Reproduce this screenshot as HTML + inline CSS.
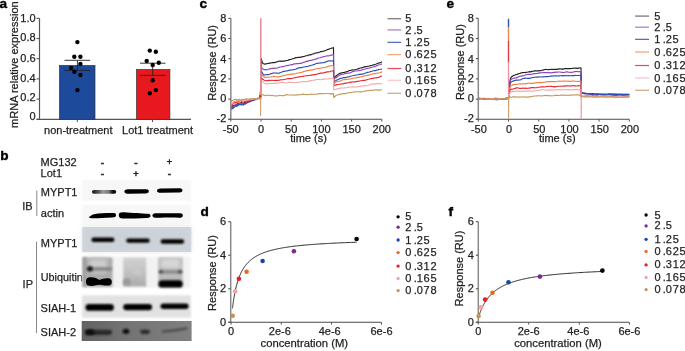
<!DOCTYPE html>
<html><head><meta charset="utf-8"><style>
html,body{margin:0;padding:0;background:#fff;}
svg{display:block;font-family:"Liberation Sans", sans-serif;will-change:transform;filter:blur(0.3px);}
text{stroke:#231f20;stroke-width:0.25px;}
</style></head><body>
<svg width="685" height="351" viewBox="0 0 685 351">
<rect width="685" height="351" fill="#fff"/>
<defs><filter id="bl" x="-20%" y="-50%" width="140%" height="200%"><feGaussianBlur stdDeviation="0.8"/></filter><filter id="bl2" x="-20%" y="-50%" width="140%" height="200%"><feGaussianBlur stdDeviation="1.3"/></filter><filter id="bl3" x="-30%" y="-80%" width="160%" height="260%"><feGaussianBlur stdDeviation="2"/></filter><filter id="bl05" x="-20%" y="-50%" width="140%" height="200%"><feGaussianBlur stdDeviation="0.5"/></filter></defs>
<text x="-0.40" y="8.00" font-size="13.6" text-anchor="start" font-weight="bold" fill="#000" style="stroke:#000;stroke-width:0.4px">a</text>
<text transform="translate(17.6,64.6) rotate(-90)" font-size="11" text-anchor="middle" fill="#231f20">mRNA relative expression</text>
<line x1="39.50" y1="18.30" x2="39.50" y2="119.80" stroke="#555" stroke-width="1.2"/>
<line x1="36.50" y1="119.30" x2="191.00" y2="119.30" stroke="#555" stroke-width="1.2"/>
<line x1="36.50" y1="119.30" x2="39.50" y2="119.30" stroke="#555" stroke-width="1.1"/>
<text x="35.60" y="120.40" font-size="11" text-anchor="end" font-weight="normal" fill="#231f20" >0</text>
<line x1="36.50" y1="99.10" x2="39.50" y2="99.10" stroke="#555" stroke-width="1.1"/>
<text x="35.60" y="101.05" font-size="11" text-anchor="end" font-weight="normal" fill="#231f20" >0.2</text>
<line x1="36.50" y1="78.90" x2="39.50" y2="78.90" stroke="#555" stroke-width="1.1"/>
<text x="35.60" y="82.20" font-size="11" text-anchor="end" font-weight="normal" fill="#231f20" >0.4</text>
<line x1="36.50" y1="58.70" x2="39.50" y2="58.70" stroke="#555" stroke-width="1.1"/>
<text x="35.60" y="61.80" font-size="11" text-anchor="end" font-weight="normal" fill="#231f20" >0.6</text>
<line x1="36.50" y1="38.50" x2="39.50" y2="38.50" stroke="#555" stroke-width="1.1"/>
<text x="35.60" y="40.70" font-size="11" text-anchor="end" font-weight="normal" fill="#231f20" >0.8</text>
<line x1="36.50" y1="18.30" x2="39.50" y2="18.30" stroke="#555" stroke-width="1.1"/>
<text x="35.60" y="21.55" font-size="11" text-anchor="end" font-weight="normal" fill="#231f20" >1.0</text>
<rect x="59.5" y="65.5" width="35.5" height="53.80" fill="#1e4a9c" stroke="#333" stroke-width="0.7"/>
<rect x="136.5" y="69.5" width="33.4" height="49.80" fill="#e8191e" stroke="#333" stroke-width="0.7"/>
<line x1="77.30" y1="119.30" x2="77.30" y2="122.00" stroke="#555" stroke-width="1.0"/>
<line x1="152.50" y1="119.30" x2="152.50" y2="122.00" stroke="#555" stroke-width="1.0"/>
<line x1="64.50" y1="60.30" x2="90.20" y2="60.30" stroke="#222" stroke-width="0.9"/>
<line x1="64.50" y1="70.40" x2="90.20" y2="70.40" stroke="#222" stroke-width="0.9"/>
<line x1="77.40" y1="60.30" x2="77.40" y2="70.40" stroke="#222" stroke-width="0.9"/>
<line x1="140.00" y1="63.20" x2="165.50" y2="63.20" stroke="#222" stroke-width="0.9"/>
<line x1="140.00" y1="75.40" x2="165.50" y2="75.40" stroke="#222" stroke-width="0.9"/>
<line x1="152.70" y1="63.20" x2="152.70" y2="75.40" stroke="#222" stroke-width="0.9"/>
<circle cx="77.4" cy="42.1" r="2.2" fill="#000"/>
<circle cx="74.3" cy="56.8" r="2.2" fill="#000"/>
<circle cx="80.4" cy="56.8" r="2.2" fill="#000"/>
<circle cx="80.4" cy="63.9" r="2.2" fill="#000"/>
<circle cx="71.2" cy="67.9" r="2.2" fill="#000"/>
<circle cx="74.4" cy="71.8" r="2.2" fill="#000"/>
<circle cx="80.4" cy="75.0" r="2.2" fill="#000"/>
<circle cx="77.4" cy="90.1" r="2.2" fill="#000"/>
<circle cx="149.8" cy="50.6" r="2.2" fill="#000"/>
<circle cx="155.8" cy="51.8" r="2.2" fill="#000"/>
<circle cx="146.7" cy="60.9" r="2.2" fill="#000"/>
<circle cx="158.8" cy="62.7" r="2.2" fill="#000"/>
<circle cx="152.7" cy="65" r="2.2" fill="#000"/>
<circle cx="152.7" cy="80.2" r="2.2" fill="#000"/>
<circle cx="155.8" cy="90.1" r="2.2" fill="#000"/>
<circle cx="149.8" cy="93.2" r="2.2" fill="#000"/>
<text x="78.30" y="133.70" font-size="11" text-anchor="middle" font-weight="normal" fill="#231f20" >non-treatment</text>
<text x="157.50" y="133.70" font-size="11" text-anchor="middle" font-weight="normal" fill="#231f20" >Lot1 treatment</text>
<text x="0.20" y="160.10" font-size="13.6" text-anchor="start" font-weight="bold" fill="#000" style="stroke:#000;stroke-width:0.4px">b</text>
<text x="40.60" y="165.90" font-size="11" text-anchor="start" font-weight="normal" fill="#231f20" >MG132</text>
<text x="40.60" y="177.10" font-size="11" text-anchor="start" font-weight="normal" fill="#231f20" >Lot1</text>
<text x="102.50" y="165.50" font-size="10" text-anchor="middle" font-weight="normal" fill="#231f20" style="stroke-width:0.55px">-</text>
<text x="135.90" y="165.50" font-size="10" text-anchor="middle" font-weight="normal" fill="#231f20" style="stroke-width:0.55px">-</text>
<text x="169.40" y="164.90" font-size="9.2" text-anchor="middle" font-weight="normal" fill="#231f20" style="stroke-width:0.5px">+</text>
<text x="102.50" y="177.00" font-size="10" text-anchor="middle" font-weight="normal" fill="#231f20" style="stroke-width:0.55px">-</text>
<text x="135.90" y="176.60" font-size="9.2" text-anchor="middle" font-weight="normal" fill="#231f20" style="stroke-width:0.5px">+</text>
<text x="169.40" y="177.00" font-size="10" text-anchor="middle" font-weight="normal" fill="#231f20" style="stroke-width:0.55px">-</text>
<text x="22.30" y="209.90" font-size="11" text-anchor="start" font-weight="normal" fill="#231f20" >IB</text>
<text x="22.60" y="288.10" font-size="11" text-anchor="start" font-weight="normal" fill="#231f20" >IP</text>
<line x1="36.80" y1="190.60" x2="36.80" y2="216.00" stroke="#888" stroke-width="1"/>
<line x1="36.50" y1="241.60" x2="36.50" y2="333.10" stroke="#888" stroke-width="1"/>
<text x="40.80" y="196.40" font-size="11" text-anchor="start" font-weight="normal" fill="#231f20" >MYPT1</text>
<text x="40.80" y="217.30" font-size="11" text-anchor="start" font-weight="normal" fill="#231f20" >actin</text>
<text x="40.80" y="246.90" font-size="11" text-anchor="start" font-weight="normal" fill="#231f20" >MYPT1</text>
<text x="40.80" y="280.90" font-size="10.8" text-anchor="start" font-weight="normal" fill="#231f20" >Ubiquitin</text>
<text x="40.60" y="312.40" font-size="11" text-anchor="start" font-weight="normal" fill="#231f20" >SIAH-1</text>
<text x="40.60" y="335.70" font-size="11" text-anchor="start" font-weight="normal" fill="#231f20" >SIAH-2</text>
<rect x="82" y="180" width="109" height="21" fill="#f7f7f7" filter="url(#bl)"/>
<linearGradient id="g1" x1="0" x2="1" y1="0" y2="0"><stop offset="0" stop-color="#111"/><stop offset="0.25" stop-color="#555"/><stop offset="0.45" stop-color="#9a9a9a"/><stop offset="0.7" stop-color="#777"/><stop offset="0.85" stop-color="#111"/><stop offset="1" stop-color="#0a0a0a"/></linearGradient>
<rect x="92" y="189.9" width="24.2" height="3.8" rx="1.9" fill="url(#g1)" filter="url(#bl05)"/>
<path d="M124.4,191.5 C124.4,189.6 126,189.2 130,189.2 L146,189.2 C148.6,189.2 148.8,190.2 148.8,191.2 C148.8,193 147,193.6 144,193.6 L130,193.8 C126,193.9 124.4,193.4 124.4,191.5 Z" fill="#050505" filter="url(#bl05)"/>
<path d="M157,190.8 C157,189 159,188.6 162,188.6 L179,188.3 C182.2,188.3 182.4,189.4 182.4,190.4 C182.4,192 181,192.4 178,192.5 L162,192.8 C158.5,192.9 157,192.5 157,190.8 Z" fill="#050505" filter="url(#bl05)"/>
<rect x="82" y="204.8" width="109" height="20.5" fill="#f7f7f7" filter="url(#bl)"/>
<path d="M88.7,217.2 C90,216.5 91.5,214.8 94,214.2 C100,213.2 108,213.0 114,213.1 C115.8,213.2 116,214 116,215.3 C116,216.8 115,217.4 112,217.6 C104,217.9 97,218.4 93,218.3 C91,218.2 89.5,217.9 88.7,217.2 Z" fill="#050505" filter="url(#bl05)"/>
<path d="M118.8,215 C118.8,212.6 120.5,212 124,212.2 C132,212.8 142,213.4 148,213.8 C150.2,214 150.5,215 150.5,216 C150.5,217.2 149.5,217.8 147,217.9 C140,218.2 130,218.6 123,218.6 C120,218.6 118.8,217.4 118.8,215 Z" fill="#050505" filter="url(#bl05)"/>
<path d="M152.4,215.5 C152.4,213.8 154,213.2 157,213.2 L180,213.3 C182.5,213.3 182.8,214.4 182.8,215.4 C182.8,217 181.5,217.8 179,217.8 C172,217.4 166,217.6 157,217.8 C153.8,217.8 152.4,217.2 152.4,215.5 Z" fill="#050505" filter="url(#bl05)"/>
<rect x="82.3" y="227" width="109" height="25" fill="#d3d9df"/>
<rect x="82.3" y="227" width="109" height="25" fill="#c8cdd4" opacity="0.5" filter="url(#bl3)"/>
<rect x="91.4" y="237.60" width="23.00" height="4.4" rx="2.20" fill="#050505" opacity="1" filter="url(#bl)"/>
<rect x="126.2" y="238.40" width="23.50" height="4.4" rx="2.20" fill="#050505" opacity="1" filter="url(#bl)"/>
<rect x="160.6" y="239.20" width="23.50" height="4.6" rx="2.30" fill="#050505" opacity="1" filter="url(#bl)"/>
<rect x="82.4" y="256.7" width="108.2" height="31" fill="#f2f2f2" filter="url(#bl)"/>
<rect x="85.5" y="257.5" width="27" height="29.5" fill="#aaaaaa" filter="url(#bl2)"/>
<rect x="89" y="259" width="18" height="14" fill="#cdcdcd" filter="url(#bl3)"/>
<linearGradient id="gl2" x1="0" x2="0" y1="0" y2="1"><stop offset="0" stop-color="#d2d2d2"/><stop offset="0.5" stop-color="#c2c2c2"/><stop offset="1" stop-color="#acacac"/></linearGradient>
<rect x="123.2" y="257.5" width="23" height="29" fill="url(#gl2)" filter="url(#bl2)"/>
<rect x="158.2" y="257.5" width="24.5" height="29.5" fill="#bbbbbb" filter="url(#bl2)"/>
<rect x="161" y="259" width="19" height="9" fill="#d8d8d8" filter="url(#bl3)"/>
<rect x="82.4" y="257" width="4" height="30" fill="#9a9a9a" filter="url(#bl2)"/>
<rect x="86" y="267.10" width="26.00" height="3.8" rx="1.90" fill="#8a8a8a" opacity="1" filter="url(#bl2)"/>
<ellipse cx="90" cy="268.8" rx="2.8" ry="2.6" fill="#151515" opacity="1" filter="url(#bl)"/>
<path d="M86,281.5 C86,278.2 87.5,277.2 91,277.2 C95,277.2 97,278.6 99.5,280 C101.5,279 104,278.3 107.5,278.3 C110.8,278.3 111.8,279.8 111.8,282 C111.8,284.8 110.5,285.6 107,285.6 C104,285.6 102,284.8 99.5,284.8 C97,284.8 95,285.9 91,285.9 C87.5,285.9 86,285 86,281.5 Z" fill="#000" filter="url(#bl05)"/>
<rect x="158.5" y="280.20" width="24.20" height="7.4" rx="3.70" fill="#000" opacity="1" filter="url(#bl)"/>
<rect x="159" y="270.20" width="23.00" height="3.2" rx="1.60" fill="#8a8a8a" opacity="1" filter="url(#bl)"/>
<ellipse cx="161" cy="271.8" rx="2.2" ry="1.8" fill="#555" opacity="1" filter="url(#bl)"/>
<ellipse cx="180" cy="271.8" rx="2.2" ry="1.8" fill="#555" opacity="1" filter="url(#bl)"/>
<ellipse cx="127" cy="282" rx="4" ry="3.5" fill="#9a9a9a" opacity="1" filter="url(#bl2)"/>
<ellipse cx="135" cy="282" rx="3" ry="2.5" fill="#b0b0b0" opacity="1" filter="url(#bl2)"/>
<ellipse cx="138" cy="272" rx="4" ry="3" fill="#c8c8c8" opacity="1" filter="url(#bl2)"/>
<rect x="82" y="295.3" width="109" height="22.4" fill="#e2e2e2" filter="url(#bl)"/>
<rect x="85.5" y="304.00" width="28.40" height="6.8" rx="3.40" fill="#050505" opacity="1" filter="url(#bl)"/>
<rect x="123.2" y="303.90" width="28.90" height="6.4" rx="3.20" fill="#050505" opacity="1" filter="url(#bl)"/>
<rect x="160.5" y="303.50" width="28.10" height="5.4" rx="2.70" fill="#050505" opacity="1" filter="url(#bl)"/>
<linearGradient id="g6" x1="0" x2="1" y1="0" y2="0"><stop offset="0" stop-color="#626262"/><stop offset="0.4" stop-color="#737373"/><stop offset="1" stop-color="#808080"/></linearGradient>
<rect x="81.7" y="321" width="109.9" height="20" fill="url(#g6)"/>
<rect x="85" y="329.70" width="27.00" height="5.2" rx="2.60" fill="#2a2a2a" opacity="1" filter="url(#bl)"/>
<ellipse cx="90" cy="332.3" rx="4.5" ry="2.7" fill="#0a0a0a" opacity="1" filter="url(#bl)"/>
<ellipse cx="126" cy="331.3" rx="3.4" ry="2.6" fill="#111" opacity="1" filter="url(#bl)"/>
<ellipse cx="145" cy="331.8" rx="5" ry="2.4" fill="#2e2e2e" opacity="1" filter="url(#bl)"/>
<path d="M162,331.5 C170,331 180,330 187.4,328" stroke="#505050" stroke-width="2.6" fill="none" filter="url(#bl)"/>
<text x="199.40" y="8.10" font-size="13.6" text-anchor="start" font-weight="bold" fill="#000" style="stroke:#000;stroke-width:0.4px">c</text>
<path d="M231.00,108.67 L231.58,107.99 L232.16,106.81 L232.74,105.78 L233.33,105.27 L233.91,105.78 L234.49,105.65 L235.07,105.30 L235.65,105.00 L236.23,104.51 L236.82,104.31 L237.40,103.28 L237.98,103.43 L238.56,104.21 L239.14,103.94 L239.72,102.96 L240.31,101.98 L240.89,102.21 L241.47,102.62 L242.05,102.99 L242.63,103.05 L243.21,103.02 L243.80,102.68 L244.38,102.48 L244.96,102.70 L245.54,102.20 L246.12,102.47 L246.70,102.68 L247.29,102.30 L247.87,101.73 L248.45,100.95 L249.03,100.85 L249.61,100.84 L250.19,100.91 L250.78,100.81 L251.36,100.35 L251.94,99.90 L252.52,99.73 L253.10,100.08 L253.68,99.86 L254.27,99.50 L254.85,99.60 L255.43,99.11 L256.01,98.91 L256.59,99.29 L257.17,98.78 L257.76,98.38 L258.34,98.58 L258.92,98.38 L259.50,98.35 L260.30,97.80 L261.30,58.28 L262.21,62.41 L263.13,63.55 L264.04,63.95 L264.96,64.14 L265.87,63.88 L266.78,63.73 L267.70,63.47 L268.61,63.38 L269.53,63.10 L270.44,63.16 L271.35,62.80 L272.27,62.59 L273.18,62.55 L274.09,62.60 L275.01,62.35 L275.92,62.21 L276.84,61.92 L277.75,61.77 L278.66,61.34 L279.58,60.96 L280.49,61.12 L281.41,61.36 L282.32,61.15 L283.23,61.08 L284.15,61.06 L285.06,60.94 L285.98,60.69 L286.89,60.53 L287.80,60.36 L288.72,59.92 L289.63,59.68 L290.55,59.51 L291.46,59.30 L292.37,58.80 L293.29,58.69 L294.20,58.43 L295.12,57.89 L296.03,57.59 L296.94,57.73 L297.86,57.43 L298.77,57.31 L299.68,57.37 L300.60,57.16 L301.51,56.87 L302.43,56.88 L303.34,56.49 L304.25,56.35 L305.17,56.07 L306.08,55.77 L307.00,55.59 L307.91,55.36 L308.82,54.90 L309.74,54.86 L310.65,54.86 L311.57,54.45 L312.48,54.05 L313.39,53.90 L314.31,53.53 L315.22,53.08 L316.14,53.05 L317.05,52.83 L317.96,52.74 L318.88,52.34 L319.79,52.01 L320.71,51.65 L321.62,51.61 L322.53,51.27 L323.45,51.16 L324.36,50.96 L325.27,50.59 L326.19,50.21 L327.10,49.76 L328.02,49.41 L328.93,49.13 L329.84,48.76 L330.76,48.44 L331.67,48.17 L332.59,48.02 L333.50,47.63 L333.70,78.56 L334.59,77.83 L335.49,76.68 L336.38,75.69 L337.28,75.02 L338.17,74.33 L339.07,73.58 L339.96,73.35 L340.86,73.19 L341.75,72.89 L342.64,72.53 L343.54,72.51 L344.43,72.38 L345.33,72.05 L346.22,71.82 L347.12,71.66 L348.01,71.21 L348.91,70.68 L349.80,70.48 L350.69,70.36 L351.59,70.04 L352.48,69.81 L353.38,69.97 L354.27,69.89 L355.17,69.72 L356.06,69.45 L356.96,69.20 L357.85,68.84 L358.74,68.59 L359.64,68.33 L360.53,68.00 L361.43,67.92 L362.32,67.58 L363.22,67.35 L364.11,66.84 L365.01,66.90 L365.90,66.66 L366.79,66.55 L367.69,66.24 L368.58,66.23 L369.48,65.97 L370.37,65.57 L371.27,65.49 L372.16,65.31 L373.06,64.93 L373.95,64.94 L374.84,64.56 L375.74,64.22 L376.63,63.81 L377.53,63.57 L378.42,63.08 L379.32,62.94 L380.21,62.63 L381.11,62.21 L382.00,61.75" fill="none" stroke="#231f20" stroke-width="1.15" stroke-linejoin="round" opacity="1"/>
<path d="M231.00,108.21 L231.58,107.21 L232.16,107.87 L232.74,108.37 L233.33,107.75 L233.91,106.29 L234.49,105.12 L235.07,104.73 L235.65,104.85 L236.23,105.84 L236.82,104.92 L237.40,104.73 L237.98,105.36 L238.56,104.50 L239.14,103.18 L239.72,103.71 L240.31,104.34 L240.89,103.45 L241.47,103.54 L242.05,103.82 L242.63,104.12 L243.21,103.46 L243.80,103.19 L244.38,103.95 L244.96,103.88 L245.54,103.11 L246.12,102.18 L246.70,102.38 L247.29,102.44 L247.87,101.94 L248.45,102.11 L249.03,101.76 L249.61,100.51 L250.19,100.29 L250.78,100.22 L251.36,100.34 L251.94,100.69 L252.52,100.17 L253.10,99.93 L253.68,100.08 L254.27,99.93 L254.85,99.86 L255.43,99.66 L256.01,99.44 L256.59,99.56 L257.17,99.50 L257.76,98.97 L258.34,98.70 L258.92,98.38 L259.50,97.96 L260.30,97.80 L261.50,66.95 L262.41,68.67 L263.32,69.43 L264.23,69.62 L265.15,69.60 L266.06,69.60 L266.97,69.71 L267.88,69.56 L268.79,69.10 L269.70,68.91 L270.61,68.84 L271.53,68.40 L272.44,68.22 L273.35,68.35 L274.26,68.38 L275.17,68.13 L276.08,68.28 L276.99,68.24 L277.91,67.84 L278.82,67.42 L279.73,67.19 L280.64,67.04 L281.55,66.79 L282.46,66.65 L283.37,66.57 L284.28,66.29 L285.20,65.98 L286.11,65.72 L287.02,65.68 L287.93,65.30 L288.84,65.32 L289.75,65.06 L290.66,64.77 L291.58,64.61 L292.49,64.64 L293.40,64.14 L294.31,63.90 L295.22,63.95 L296.13,63.59 L297.04,63.50 L297.96,63.64 L298.87,63.60 L299.78,63.39 L300.69,63.39 L301.60,63.15 L302.51,62.88 L303.42,62.32 L304.34,62.14 L305.25,61.89 L306.16,61.52 L307.07,61.15 L307.98,61.36 L308.89,60.79 L309.80,60.43 L310.72,60.48 L311.63,60.16 L312.54,59.75 L313.45,59.91 L314.36,59.58 L315.27,59.11 L316.18,59.07 L317.09,58.63 L318.01,58.15 L318.92,57.96 L319.83,57.76 L320.74,57.43 L321.65,57.29 L322.56,56.96 L323.47,56.66 L324.39,56.45 L325.30,56.26 L326.21,55.97 L327.12,55.78 L328.03,55.92 L328.94,55.75 L329.85,55.61 L330.77,55.21 L331.68,55.18 L332.59,54.73 L333.50,54.60 L333.70,79.69 L334.59,78.68 L335.49,77.92 L336.38,77.60 L337.28,76.69 L338.17,75.98 L339.07,75.57 L339.96,75.04 L340.86,74.48 L341.75,74.24 L342.64,74.27 L343.54,74.12 L344.43,73.76 L345.33,73.46 L346.22,73.55 L347.12,73.25 L348.01,73.15 L348.91,73.16 L349.80,73.01 L350.69,72.65 L351.59,72.11 L352.48,71.64 L353.38,71.35 L354.27,71.30 L355.17,71.00 L356.06,71.02 L356.96,70.95 L357.85,70.80 L358.74,70.62 L359.64,70.52 L360.53,70.30 L361.43,70.13 L362.32,69.89 L363.22,69.52 L364.11,69.22 L365.01,69.03 L365.90,68.72 L366.79,68.50 L367.69,68.35 L368.58,68.20 L369.48,67.95 L370.37,67.59 L371.27,67.37 L372.16,67.23 L373.06,67.01 L373.95,66.75 L374.84,66.67 L375.74,66.27 L376.63,65.70 L377.53,65.40 L378.42,65.05 L379.32,64.81 L380.21,64.53 L381.11,64.18 L382.00,63.79" fill="none" stroke="#8e44b8" stroke-width="1.15" stroke-linejoin="round" opacity="1"/>
<path d="M231.00,109.46 L231.58,108.45 L232.16,108.80 L232.74,108.70 L233.33,107.76 L233.91,107.60 L234.49,107.31 L235.07,106.24 L235.65,105.93 L236.23,106.43 L236.82,106.36 L237.40,105.89 L237.98,104.86 L238.56,104.23 L239.14,104.84 L239.72,104.65 L240.31,104.67 L240.89,104.90 L241.47,104.71 L242.05,104.28 L242.63,104.77 L243.21,105.17 L243.80,104.00 L244.38,103.42 L244.96,104.23 L245.54,103.87 L246.12,103.07 L246.70,103.28 L247.29,102.76 L247.87,101.85 L248.45,101.68 L249.03,101.89 L249.61,101.91 L250.19,101.77 L250.78,101.24 L251.36,101.04 L251.94,100.95 L252.52,100.60 L253.10,100.29 L253.68,100.01 L254.27,99.96 L254.85,99.61 L255.43,99.18 L256.01,99.22 L256.59,98.91 L257.17,98.68 L257.76,98.44 L258.34,98.26 L258.92,98.53 L259.50,98.57 L260.30,97.80 L261.50,71.21 L262.41,73.05 L263.32,74.81 L264.23,74.85 L265.15,74.85 L266.06,74.77 L266.97,74.56 L267.88,74.45 L268.79,74.60 L269.70,74.14 L270.61,73.65 L271.53,73.57 L272.44,73.33 L273.35,72.91 L274.26,72.96 L275.17,73.04 L276.08,73.09 L276.99,73.08 L277.91,73.26 L278.82,73.23 L279.73,72.87 L280.64,72.57 L281.55,72.19 L282.46,71.71 L283.37,71.38 L284.28,71.35 L285.20,71.28 L286.11,71.03 L287.02,70.82 L287.93,70.63 L288.84,70.41 L289.75,70.12 L290.66,70.10 L291.58,69.95 L292.49,69.83 L293.40,69.69 L294.31,69.52 L295.22,69.24 L296.13,69.10 L297.04,68.49 L297.96,68.13 L298.87,67.93 L299.78,67.63 L300.69,67.46 L301.60,67.58 L302.51,67.31 L303.42,67.05 L304.34,66.96 L305.25,66.76 L306.16,66.58 L307.07,66.50 L307.98,66.19 L308.89,65.97 L309.80,65.67 L310.72,65.45 L311.63,65.24 L312.54,65.02 L313.45,64.63 L314.36,64.36 L315.27,63.95 L316.18,63.55 L317.09,63.39 L318.01,63.26 L318.92,63.09 L319.83,63.01 L320.74,62.88 L321.65,62.94 L322.56,62.75 L323.47,62.65 L324.39,62.39 L325.30,62.36 L326.21,61.60 L327.12,61.34 L328.03,61.03 L328.94,60.88 L329.85,60.82 L330.77,60.93 L331.68,60.96 L332.59,60.82 L333.50,60.66 L333.70,81.84 L334.59,81.20 L335.49,80.76 L336.38,80.33 L337.28,79.74 L338.17,79.55 L339.07,79.15 L339.96,78.53 L340.86,78.32 L341.75,78.13 L342.64,77.87 L343.54,77.58 L344.43,77.66 L345.33,77.63 L346.22,77.40 L347.12,77.19 L348.01,77.05 L348.91,76.84 L349.80,76.40 L350.69,76.27 L351.59,76.00 L352.48,75.78 L353.38,75.51 L354.27,75.53 L355.17,75.26 L356.06,75.04 L356.96,75.00 L357.85,74.73 L358.74,74.43 L359.64,74.39 L360.53,74.38 L361.43,74.04 L362.32,74.09 L363.22,73.86 L364.11,73.58 L365.01,73.20 L365.90,73.05 L366.79,72.42 L367.69,72.41 L368.58,72.27 L369.48,72.00 L370.37,71.65 L371.27,71.46 L372.16,71.19 L373.06,70.80 L373.95,70.71 L374.84,70.63 L375.74,70.58 L376.63,70.14 L377.53,69.98 L378.42,69.63 L379.32,69.45 L380.21,69.28 L381.11,69.24 L382.00,69.00" fill="none" stroke="#2a50b4" stroke-width="1.15" stroke-linejoin="round" opacity="1"/>
<path d="M231.00,104.29 L231.58,104.75 L232.16,105.03 L232.74,103.63 L233.33,102.60 L233.91,102.01 L234.49,101.56 L235.07,101.57 L235.65,102.01 L236.23,102.28 L236.82,102.28 L237.40,102.85 L237.98,102.22 L238.56,101.29 L239.14,102.64 L239.72,101.81 L240.31,100.44 L240.89,101.19 L241.47,101.39 L242.05,101.42 L242.63,101.21 L243.21,101.13 L243.80,101.16 L244.38,101.23 L244.96,100.45 L245.54,99.80 L246.12,100.35 L246.70,100.20 L247.29,99.77 L247.87,100.18 L248.45,100.18 L249.03,100.06 L249.61,100.33 L250.19,100.11 L250.78,99.93 L251.36,99.71 L251.94,99.14 L252.52,99.08 L253.10,99.41 L253.68,99.21 L254.27,99.00 L254.85,99.18 L255.43,98.93 L256.01,98.83 L256.59,99.24 L257.17,98.93 L257.76,98.56 L258.34,98.55 L258.92,98.69 L259.50,98.68 L260.30,97.80 L261.50,73.88 L262.41,75.22 L263.32,76.12 L264.23,77.00 L265.15,77.44 L266.06,77.32 L266.97,77.23 L267.88,77.23 L268.79,77.08 L269.70,77.23 L270.61,77.05 L271.53,76.83 L272.44,76.79 L273.35,76.60 L274.26,76.40 L275.17,76.60 L276.08,76.70 L276.99,76.80 L277.91,77.11 L278.82,76.91 L279.73,76.51 L280.64,76.40 L281.55,76.30 L282.46,75.78 L283.37,75.56 L284.28,75.52 L285.20,75.32 L286.11,74.94 L287.02,74.87 L287.93,74.77 L288.84,74.61 L289.75,74.38 L290.66,74.34 L291.58,74.14 L292.49,74.14 L293.40,74.06 L294.31,73.84 L295.22,73.76 L296.13,73.52 L297.04,73.22 L297.96,72.96 L298.87,73.00 L299.78,72.68 L300.69,72.59 L301.60,72.42 L302.51,71.98 L303.42,71.62 L304.34,71.39 L305.25,71.26 L306.16,70.91 L307.07,70.66 L307.98,70.46 L308.89,70.37 L309.80,70.07 L310.72,70.10 L311.63,70.10 L312.54,69.82 L313.45,69.65 L314.36,69.32 L315.27,68.94 L316.18,68.76 L317.09,68.73 L318.01,68.45 L318.92,68.47 L319.83,68.27 L320.74,68.11 L321.65,68.01 L322.56,67.75 L323.47,67.79 L324.39,67.59 L325.30,67.35 L326.21,66.97 L327.12,66.97 L328.03,66.35 L328.94,65.97 L329.85,65.84 L330.77,65.71 L331.68,65.46 L332.59,65.70 L333.50,65.77 L333.70,84.24 L334.59,83.05 L335.49,82.44 L336.38,81.71 L337.28,81.48 L338.17,81.35 L339.07,81.36 L339.96,80.97 L340.86,80.72 L341.75,80.32 L342.64,79.84 L343.54,79.73 L344.43,79.60 L345.33,79.51 L346.22,79.44 L347.12,79.45 L348.01,79.29 L348.91,79.12 L349.80,79.02 L350.69,78.85 L351.59,78.47 L352.48,78.40 L353.38,78.30 L354.27,77.96 L355.17,77.93 L356.06,77.92 L356.96,77.44 L357.85,77.39 L358.74,77.35 L359.64,77.16 L360.53,76.97 L361.43,76.94 L362.32,76.44 L363.22,76.32 L364.11,76.04 L365.01,75.80 L365.90,75.65 L366.79,75.62 L367.69,75.38 L368.58,75.14 L369.48,74.95 L370.37,74.48 L371.27,74.21 L372.16,73.99 L373.06,73.94 L373.95,73.68 L374.84,73.66 L375.74,73.64 L376.63,73.30 L377.53,72.99 L378.42,72.97 L379.32,72.74 L380.21,72.45 L381.11,72.16 L382.00,71.85" fill="none" stroke="#f08040" stroke-width="1.15" stroke-linejoin="round" opacity="1"/>
<path d="M231.00,106.01 L231.58,106.90 L232.16,105.28 L232.74,103.15 L233.33,103.38 L233.91,102.80 L234.49,102.53 L235.07,103.09 L235.65,102.58 L236.23,102.44 L236.82,101.77 L237.40,101.77 L237.98,101.69 L238.56,101.01 L239.14,101.35 L239.72,101.41 L240.31,101.90 L240.89,102.03 L241.47,101.47 L242.05,101.59 L242.63,102.26 L243.21,101.98 L243.80,101.45 L244.38,101.80 L244.96,101.66 L245.54,100.67 L246.12,101.31 L246.70,102.31 L247.29,100.73 L247.87,99.90 L248.45,100.50 L249.03,100.65 L249.61,100.58 L250.19,100.10 L250.78,99.53 L251.36,99.51 L251.94,99.91 L252.52,99.52 L253.10,98.95 L253.68,99.09 L254.27,98.81 L254.85,98.67 L255.43,98.88 L256.01,98.93 L256.59,98.79 L257.17,98.46 L257.76,98.44 L258.34,98.49 L258.92,98.37 L259.50,98.30 L260.30,97.80 L261.50,77.91 L262.41,78.93 L263.32,79.55 L264.23,80.29 L265.15,80.60 L266.06,80.73 L266.97,80.55 L267.88,80.60 L268.79,80.36 L269.70,80.30 L270.61,80.55 L271.53,80.24 L272.44,80.28 L273.35,80.47 L274.26,80.44 L275.17,80.30 L276.08,80.61 L276.99,80.42 L277.91,80.42 L278.82,80.23 L279.73,80.17 L280.64,79.82 L281.55,79.73 L282.46,79.71 L283.37,79.69 L284.28,79.46 L285.20,79.29 L286.11,79.08 L287.02,78.76 L287.93,78.67 L288.84,78.59 L289.75,78.64 L290.66,78.58 L291.58,78.56 L292.49,78.25 L293.40,77.98 L294.31,77.87 L295.22,77.73 L296.13,77.39 L297.04,77.22 L297.96,77.10 L298.87,76.93 L299.78,76.82 L300.69,76.57 L301.60,76.54 L302.51,76.45 L303.42,76.11 L304.34,76.02 L305.25,75.98 L306.16,75.74 L307.07,75.66 L307.98,75.78 L308.89,75.45 L309.80,75.38 L310.72,75.16 L311.63,75.18 L312.54,74.81 L313.45,74.87 L314.36,74.58 L315.27,74.62 L316.18,74.45 L317.09,74.04 L318.01,73.69 L318.92,73.66 L319.83,73.39 L320.74,72.89 L321.65,73.27 L322.56,73.16 L323.47,72.74 L324.39,72.68 L325.30,72.38 L326.21,72.09 L327.12,71.84 L328.03,71.87 L328.94,71.74 L329.85,71.77 L330.77,71.30 L331.68,70.98 L332.59,70.92 L333.50,70.68 L333.70,85.74 L334.59,85.41 L335.49,85.12 L336.38,84.89 L337.28,84.65 L338.17,84.49 L339.07,84.26 L339.96,84.28 L340.86,83.92 L341.75,83.98 L342.64,83.82 L343.54,83.71 L344.43,83.26 L345.33,83.34 L346.22,83.16 L347.12,83.05 L348.01,82.77 L348.91,82.70 L349.80,82.37 L350.69,82.14 L351.59,82.09 L352.48,82.05 L353.38,81.84 L354.27,81.81 L355.17,81.95 L356.06,81.60 L356.96,81.43 L357.85,81.42 L358.74,81.32 L359.64,81.05 L360.53,80.79 L361.43,80.79 L362.32,80.63 L363.22,80.42 L364.11,80.28 L365.01,80.36 L365.90,80.02 L366.79,79.71 L367.69,79.46 L368.58,79.24 L369.48,78.97 L370.37,78.70 L371.27,78.68 L372.16,78.42 L373.06,78.35 L373.95,78.10 L374.84,78.05 L375.74,77.91 L376.63,77.85 L377.53,77.48 L378.42,77.37 L379.32,77.12 L380.21,76.56 L381.11,76.24 L382.00,76.09" fill="none" stroke="#e52b33" stroke-width="1.15" stroke-linejoin="round" opacity="1"/>
<path d="M231.00,104.03 L231.58,104.08 L232.16,103.78 L232.74,103.29 L233.33,102.32 L233.91,101.75 L234.49,101.56 L235.07,101.28 L235.65,101.22 L236.23,100.51 L236.82,100.37 L237.40,101.03 L237.98,100.70 L238.56,100.64 L239.14,101.19 L239.72,101.08 L240.31,101.65 L240.89,100.64 L241.47,99.71 L242.05,99.98 L242.63,100.38 L243.21,101.99 L243.80,100.64 L244.38,99.67 L244.96,100.67 L245.54,100.44 L246.12,100.36 L246.70,99.64 L247.29,99.65 L247.87,100.37 L248.45,100.01 L249.03,99.63 L249.61,99.71 L250.19,99.64 L250.78,99.43 L251.36,99.34 L251.94,98.66 L252.52,98.72 L253.10,99.21 L253.68,99.30 L254.27,98.99 L254.85,98.75 L255.43,98.98 L256.01,98.94 L256.59,98.98 L257.17,99.22 L257.76,98.77 L258.34,98.06 L258.92,98.29 L259.50,98.76 L260.30,97.80 L261.50,80.94 L262.41,81.54 L263.32,82.36 L264.23,83.36 L265.15,83.68 L266.06,83.70 L266.97,83.82 L267.88,83.95 L268.79,83.56 L269.70,83.47 L270.61,83.52 L271.53,83.45 L272.44,83.55 L273.35,83.55 L274.26,83.40 L275.17,83.38 L276.08,83.44 L276.99,83.30 L277.91,83.25 L278.82,82.97 L279.73,82.68 L280.64,82.53 L281.55,82.36 L282.46,82.39 L283.37,82.57 L284.28,82.84 L285.20,82.95 L286.11,82.90 L287.02,82.76 L287.93,82.45 L288.84,82.31 L289.75,82.29 L290.66,82.38 L291.58,82.39 L292.49,82.55 L293.40,82.61 L294.31,82.49 L295.22,82.45 L296.13,82.46 L297.04,82.43 L297.96,82.40 L298.87,82.26 L299.78,82.06 L300.69,81.81 L301.60,81.61 L302.51,81.54 L303.42,81.71 L304.34,81.65 L305.25,81.69 L306.16,81.81 L307.07,81.59 L307.98,81.40 L308.89,81.12 L309.80,80.85 L310.72,80.63 L311.63,80.57 L312.54,80.30 L313.45,80.22 L314.36,80.12 L315.27,79.86 L316.18,79.47 L317.09,79.51 L318.01,79.42 L318.92,79.35 L319.83,79.58 L320.74,79.72 L321.65,79.48 L322.56,79.39 L323.47,79.34 L324.39,79.18 L325.30,79.03 L326.21,79.04 L327.12,79.04 L328.03,78.96 L328.94,78.67 L329.85,78.56 L330.77,78.48 L331.68,78.23 L332.59,78.08 L333.50,78.06 L333.70,89.96 L334.59,89.57 L335.49,89.46 L336.38,89.07 L337.28,88.85 L338.17,88.57 L339.07,88.60 L339.96,88.17 L340.86,88.07 L341.75,88.02 L342.64,88.04 L343.54,87.99 L344.43,87.93 L345.33,87.98 L346.22,87.79 L347.12,87.51 L348.01,87.38 L348.91,87.30 L349.80,86.96 L350.69,86.90 L351.59,87.03 L352.48,86.83 L353.38,86.81 L354.27,86.97 L355.17,86.99 L356.06,86.86 L356.96,86.90 L357.85,86.81 L358.74,86.57 L359.64,86.48 L360.53,86.39 L361.43,86.02 L362.32,85.93 L363.22,85.74 L364.11,85.62 L365.01,85.46 L365.90,85.61 L366.79,85.72 L367.69,85.58 L368.58,85.27 L369.48,85.06 L370.37,84.66 L371.27,84.11 L372.16,84.12 L373.06,84.03 L373.95,83.84 L374.84,83.79 L375.74,83.90 L376.63,83.63 L377.53,83.50 L378.42,83.57 L379.32,83.71 L380.21,83.69 L381.11,83.71 L382.00,83.60" fill="none" stroke="#f5a8b0" stroke-width="1.15" stroke-linejoin="round" opacity="1"/>
<path d="M231.00,101.85 L231.58,100.98 L232.16,100.52 L232.74,100.52 L233.33,100.26 L233.91,99.94 L234.49,99.52 L235.07,99.45 L235.65,99.36 L236.23,99.71 L236.82,100.12 L237.40,99.57 L237.98,99.72 L238.56,100.12 L239.14,99.41 L239.72,99.58 L240.31,100.10 L240.89,100.11 L241.47,99.69 L242.05,99.37 L242.63,99.66 L243.21,99.57 L243.80,99.50 L244.38,99.62 L244.96,99.29 L245.54,98.86 L246.12,98.84 L246.70,98.92 L247.29,99.01 L247.87,99.11 L248.45,99.20 L249.03,99.10 L249.61,98.92 L250.19,98.81 L250.78,98.98 L251.36,99.09 L251.94,98.94 L252.52,98.77 L253.10,98.90 L253.68,98.83 L254.27,98.69 L254.85,98.84 L255.43,98.71 L256.01,98.64 L256.59,98.53 L257.17,98.51 L257.76,98.59 L258.34,98.35 L258.92,98.36 L259.50,98.38 L260.30,97.80 L261.50,93.93 L262.41,94.46 L263.32,95.10 L264.23,95.48 L265.15,95.67 L266.06,95.32 L266.97,95.51 L267.88,95.43 L268.79,95.22 L269.70,95.19 L270.61,95.56 L271.53,95.54 L272.44,95.39 L273.35,95.77 L274.26,95.72 L275.17,95.93 L276.08,95.77 L276.99,95.95 L277.91,95.71 L278.82,95.57 L279.73,95.40 L280.64,95.49 L281.55,95.57 L282.46,95.68 L283.37,95.72 L284.28,95.37 L285.20,95.16 L286.11,94.87 L287.02,94.64 L287.93,94.75 L288.84,94.95 L289.75,94.96 L290.66,95.03 L291.58,95.08 L292.49,95.00 L293.40,95.02 L294.31,95.13 L295.22,95.00 L296.13,94.80 L297.04,94.91 L297.96,94.81 L298.87,94.79 L299.78,94.65 L300.69,94.76 L301.60,94.56 L302.51,94.34 L303.42,94.12 L304.34,94.36 L305.25,94.49 L306.16,94.64 L307.07,94.66 L307.98,94.52 L308.89,94.46 L309.80,94.40 L310.72,94.20 L311.63,94.10 L312.54,94.31 L313.45,94.30 L314.36,94.21 L315.27,94.09 L316.18,94.23 L317.09,94.18 L318.01,93.98 L318.92,93.65 L319.83,93.69 L320.74,93.66 L321.65,93.52 L322.56,93.64 L323.47,93.74 L324.39,93.64 L325.30,93.49 L326.21,93.50 L327.12,93.53 L328.03,93.52 L328.94,93.71 L329.85,93.87 L330.77,93.84 L331.68,93.67 L332.59,93.84 L333.50,93.53 L333.70,97.48 L334.59,96.73 L335.49,96.01 L336.38,95.29 L337.28,95.04 L338.17,94.71 L339.07,94.42 L339.96,94.13 L340.86,94.01 L341.75,93.82 L342.64,93.81 L343.54,93.63 L344.43,93.65 L345.33,93.69 L346.22,93.41 L347.12,93.01 L348.01,92.95 L348.91,92.67 L349.80,92.50 L350.69,92.42 L351.59,92.25 L352.48,92.26 L353.38,92.07 L354.27,92.04 L355.17,91.86 L356.06,91.91 L356.96,91.72 L357.85,91.74 L358.74,91.70 L359.64,91.83 L360.53,91.88 L361.43,91.92 L362.32,91.73 L363.22,91.45 L364.11,91.22 L365.01,90.96 L365.90,90.88 L366.79,90.87 L367.69,90.75 L368.58,90.60 L369.48,90.38 L370.37,90.29 L371.27,90.40 L372.16,90.39 L373.06,90.30 L373.95,90.12 L374.84,89.97 L375.74,89.85 L376.63,89.76 L377.53,89.85 L378.42,90.17 L379.32,90.16 L380.21,89.88 L381.11,89.84 L382.00,89.72" fill="none" stroke="#c49a5a" stroke-width="1.15" stroke-linejoin="round" opacity="1"/>
<line x1="260.80" y1="18.20" x2="260.80" y2="99.00" stroke="#e68b97" stroke-width="1.5"/>
<line x1="260.60" y1="94.00" x2="260.60" y2="116.00" stroke="#c9a06a" stroke-width="1.1"/>
<ellipse cx="260.3" cy="96.2" rx="1.2" ry="1.2" fill="#e0202a" opacity="1" filter="url(#bl05)"/>
<line x1="230.80" y1="18.30" x2="230.80" y2="119.30" stroke="#8a8a8a" stroke-width="1.5"/>
<line x1="228.30" y1="119.30" x2="381.80" y2="119.30" stroke="#4a4a4a" stroke-width="1.1"/>
<line x1="228.30" y1="18.30" x2="230.80" y2="18.30" stroke="#555" stroke-width="1.1"/>
<text x="226.30" y="21.75" font-size="11" text-anchor="end" font-weight="normal" fill="#231f20" >8</text>
<line x1="228.30" y1="38.50" x2="230.80" y2="38.50" stroke="#555" stroke-width="1.1"/>
<text x="226.30" y="41.70" font-size="11" text-anchor="end" font-weight="normal" fill="#231f20" >6</text>
<line x1="228.30" y1="58.60" x2="230.80" y2="58.60" stroke="#555" stroke-width="1.1"/>
<text x="226.30" y="62.55" font-size="11" text-anchor="end" font-weight="normal" fill="#231f20" >4</text>
<line x1="228.30" y1="78.90" x2="230.80" y2="78.90" stroke="#555" stroke-width="1.1"/>
<text x="226.30" y="81.70" font-size="11" text-anchor="end" font-weight="normal" fill="#231f20" >2</text>
<line x1="228.30" y1="99.10" x2="230.80" y2="99.10" stroke="#555" stroke-width="1.1"/>
<text x="226.30" y="101.65" font-size="11" text-anchor="end" font-weight="normal" fill="#231f20" >0</text>
<line x1="228.30" y1="119.30" x2="230.80" y2="119.30" stroke="#555" stroke-width="1.1"/>
<text x="226.30" y="121.65" font-size="11" text-anchor="end" font-weight="normal" fill="#231f20" >-2</text>
<line x1="230.80" y1="119.30" x2="230.80" y2="121.60" stroke="#555" stroke-width="1.0"/>
<text x="230.80" y="132.80" font-size="11" text-anchor="middle" font-weight="normal" fill="#231f20" >-50</text>
<line x1="261.00" y1="119.30" x2="261.00" y2="121.60" stroke="#555" stroke-width="1.0"/>
<text x="261.00" y="132.80" font-size="11" text-anchor="middle" font-weight="normal" fill="#231f20" >0</text>
<line x1="291.20" y1="119.30" x2="291.20" y2="121.60" stroke="#555" stroke-width="1.0"/>
<text x="291.20" y="132.80" font-size="11" text-anchor="middle" font-weight="normal" fill="#231f20" >50</text>
<line x1="321.40" y1="119.30" x2="321.40" y2="121.60" stroke="#555" stroke-width="1.0"/>
<text x="321.40" y="132.80" font-size="11" text-anchor="middle" font-weight="normal" fill="#231f20" >100</text>
<line x1="351.60" y1="119.30" x2="351.60" y2="121.60" stroke="#555" stroke-width="1.0"/>
<text x="351.60" y="132.80" font-size="11" text-anchor="middle" font-weight="normal" fill="#231f20" >150</text>
<line x1="381.80" y1="119.30" x2="381.80" y2="121.60" stroke="#555" stroke-width="1.0"/>
<text x="381.80" y="132.80" font-size="11" text-anchor="middle" font-weight="normal" fill="#231f20" >200</text>
<text x="308.50" y="141.90" font-size="11" text-anchor="middle" font-weight="normal" fill="#231f20" >time (s)</text>
<text transform="translate(216.3,62.9) rotate(-90)" font-size="11" text-anchor="middle" fill="#231f20">Response (RU)</text>
<line x1="387.50" y1="18.70" x2="401.20" y2="18.70" stroke="#8a8a8a" stroke-width="1.5"/>
<text x="405.20" y="22.40" font-size="11" text-anchor="start" font-weight="normal" fill="#231f20" letter-spacing="0.8" >5</text>
<line x1="387.50" y1="29.90" x2="401.20" y2="29.90" stroke="#b98ad2" stroke-width="1.4"/>
<text x="405.20" y="33.60" font-size="11" text-anchor="start" font-weight="normal" fill="#231f20" letter-spacing="0.8" >2<tspan dx="1.5">.</tspan><tspan dx="-0.9">5</tspan></text>
<line x1="387.50" y1="42.30" x2="401.20" y2="42.30" stroke="#3a56b2" stroke-width="1.1"/>
<text x="405.20" y="46.00" font-size="11" text-anchor="start" font-weight="normal" fill="#231f20" letter-spacing="0.8" >1<tspan dx="1.5">.</tspan><tspan dx="-0.9">2</tspan>5</text>
<line x1="387.50" y1="54.60" x2="401.20" y2="54.60" stroke="#f7ab84" stroke-width="1.4"/>
<text x="405.20" y="58.30" font-size="11" text-anchor="start" font-weight="normal" fill="#231f20" letter-spacing="0.8" >0<tspan dx="1.5">.</tspan><tspan dx="-0.9">6</tspan>25</text>
<line x1="387.50" y1="68.50" x2="401.20" y2="68.50" stroke="#e84a56" stroke-width="1.2"/>
<text x="405.20" y="72.20" font-size="11" text-anchor="start" font-weight="normal" fill="#231f20" letter-spacing="0.8" >0<tspan dx="1.5">.</tspan><tspan dx="-0.9">3</tspan>12</text>
<line x1="387.50" y1="80.40" x2="401.20" y2="80.40" stroke="#f9cdd2" stroke-width="1.5"/>
<text x="405.20" y="84.10" font-size="11" text-anchor="start" font-weight="normal" fill="#231f20" letter-spacing="0.8" >0<tspan dx="1.5">.</tspan><tspan dx="-0.9">1</tspan>65</text>
<line x1="387.50" y1="93.30" x2="401.20" y2="93.30" stroke="#d2ae84" stroke-width="1.3"/>
<text x="405.20" y="97.00" font-size="11" text-anchor="start" font-weight="normal" fill="#231f20" letter-spacing="0.8" >0<tspan dx="1.5">.</tspan><tspan dx="-0.9">0</tspan>78</text>
<text x="446.60" y="8.10" font-size="13.6" text-anchor="start" font-weight="bold" fill="#000" style="stroke:#000;stroke-width:0.4px">e</text>
<path d="M478.50,98.52 L479.26,98.34 L480.01,98.67 L480.77,98.74 L481.53,98.85 L482.28,98.83 L483.04,99.20 L483.79,99.30 L484.55,99.50 L485.31,99.31 L486.06,99.50 L486.82,99.36 L487.58,99.24 L488.33,99.12 L489.09,99.16 L489.85,98.97 L490.60,99.08 L491.36,98.90 L492.12,98.86 L492.87,98.88 L493.63,99.23 L494.38,99.27 L495.14,99.26 L495.90,99.22 L496.65,99.39 L497.41,99.12 L498.17,99.02 L498.92,99.20 L499.68,99.29 L500.44,99.12 L501.19,99.00 L501.95,98.78 L502.71,98.65 L503.46,98.52 L504.22,98.73 L504.97,98.75 L505.73,99.00 L506.49,99.03 L507.24,98.76 L508.00,98.33 L508.90,97.60 L509.60,83.95 L510.40,78.71 L511.20,77.23 L512.01,76.49 L512.81,75.93 L513.61,75.44 L514.41,75.29 L515.22,75.01 L516.02,74.63 L516.82,74.48 L517.62,74.15 L518.42,73.85 L519.23,73.48 L520.03,73.35 L520.83,73.02 L521.63,72.79 L522.44,72.68 L523.24,72.56 L524.04,72.51 L524.84,72.48 L525.64,72.56 L526.45,72.14 L527.25,72.22 L528.05,72.06 L528.85,71.87 L529.66,71.59 L530.46,71.85 L531.26,71.65 L532.06,71.36 L532.87,71.21 L533.67,71.18 L534.47,70.88 L535.27,70.80 L536.07,70.94 L536.88,70.89 L537.68,70.82 L538.48,70.87 L539.28,70.68 L540.09,70.54 L540.89,70.70 L541.69,70.44 L542.49,70.12 L543.29,70.06 L544.10,69.70 L544.90,69.50 L545.70,69.39 L546.50,69.51 L547.31,69.72 L548.11,69.69 L548.91,69.57 L549.71,69.52 L550.51,69.51 L551.32,69.24 L552.12,69.34 L552.92,69.33 L553.72,69.55 L554.53,69.39 L555.33,69.43 L556.13,69.37 L556.93,69.33 L557.73,69.11 L558.54,69.12 L559.34,68.87 L560.14,68.84 L560.94,68.98 L561.75,69.07 L562.55,68.89 L563.35,69.08 L564.15,68.98 L564.96,68.57 L565.76,68.44 L566.56,68.61 L567.36,68.58 L568.16,68.63 L568.97,68.66 L569.77,68.58 L570.57,68.61 L571.37,68.55 L572.18,68.42 L572.98,68.25 L573.78,68.18 L574.58,68.26 L575.38,68.07 L576.19,68.12 L576.99,68.32 L577.79,68.40 L578.59,68.07 L579.40,68.01 L580.20,67.87 L581.00,67.98 L581.30,92.62 L582.19,92.66 L583.08,93.08 L583.97,93.32 L584.86,93.39 L585.74,93.48 L586.63,93.63 L587.52,93.63 L588.41,93.69 L589.30,93.60 L590.19,93.60 L591.08,93.63 L591.97,93.61 L592.86,93.60 L593.74,93.95 L594.63,93.95 L595.52,94.18 L596.41,94.23 L597.30,94.17 L598.19,94.26 L599.08,94.35 L599.97,94.34 L600.86,94.38 L601.74,94.59 L602.63,94.49 L603.52,94.53 L604.41,94.46 L605.30,94.66 L606.19,94.54 L607.08,94.44 L607.97,94.26 L608.86,94.37 L609.74,94.20 L610.63,94.18 L611.52,94.19 L612.41,94.29 L613.30,94.08 L614.19,94.13 L615.08,94.18 L615.97,94.22 L616.86,94.18 L617.74,94.31 L618.63,94.30 L619.52,94.37 L620.41,94.45 L621.30,94.58 L622.19,94.38 L623.08,94.38 L623.97,94.31 L624.86,94.36 L625.74,94.19 L626.63,94.33 L627.52,94.35 L628.41,94.40 L629.30,94.42" fill="none" stroke="#231f20" stroke-width="1.15" stroke-linejoin="round" opacity="1"/>
<path d="M478.50,98.72 L479.26,98.68 L480.01,98.88 L480.77,99.16 L481.53,98.89 L482.28,98.96 L483.04,98.85 L483.79,98.95 L484.55,98.91 L485.31,98.83 L486.06,98.57 L486.82,98.77 L487.58,98.64 L488.33,98.58 L489.09,98.85 L489.85,98.95 L490.60,98.75 L491.36,98.78 L492.12,98.84 L492.87,98.99 L493.63,99.05 L494.38,99.33 L495.14,99.52 L495.90,99.70 L496.65,99.63 L497.41,99.63 L498.17,99.41 L498.92,99.16 L499.68,98.86 L500.44,98.71 L501.19,98.59 L501.95,98.74 L502.71,98.80 L503.46,98.80 L504.22,98.56 L504.97,98.60 L505.73,98.33 L506.49,98.11 L507.24,97.99 L508.00,97.92 L508.90,97.60 L509.60,85.39 L510.40,80.52 L511.20,79.37 L512.01,78.92 L512.81,78.54 L513.61,78.29 L514.41,78.15 L515.22,78.07 L516.02,77.82 L516.82,77.64 L517.62,77.15 L518.42,76.91 L519.23,76.36 L520.03,76.23 L520.83,76.13 L521.63,76.16 L522.44,75.77 L523.24,75.84 L524.04,75.53 L524.84,75.15 L525.64,74.70 L526.45,74.75 L527.25,74.65 L528.05,74.51 L528.85,74.38 L529.66,74.36 L530.46,74.40 L531.26,74.23 L532.06,74.13 L532.87,73.92 L533.67,73.79 L534.47,73.56 L535.27,73.56 L536.07,73.51 L536.88,73.54 L537.68,73.48 L538.48,73.08 L539.28,72.91 L540.09,72.76 L540.89,72.88 L541.69,72.70 L542.49,72.71 L543.29,72.60 L544.10,72.59 L544.90,72.53 L545.70,72.67 L546.50,72.65 L547.31,72.66 L548.11,72.80 L548.91,72.50 L549.71,72.67 L550.51,72.82 L551.32,72.81 L552.12,72.51 L552.92,72.62 L553.72,72.38 L554.53,72.42 L555.33,72.17 L556.13,72.26 L556.93,72.10 L557.73,72.09 L558.54,72.00 L559.34,71.95 L560.14,71.96 L560.94,72.20 L561.75,72.37 L562.55,72.37 L563.35,72.49 L564.15,72.41 L564.96,72.23 L565.76,71.97 L566.56,71.89 L567.36,71.89 L568.16,72.16 L568.97,72.27 L569.77,72.20 L570.57,72.32 L571.37,72.39 L572.18,72.20 L572.98,72.07 L573.78,71.96 L574.58,71.66 L575.38,71.63 L576.19,71.51 L576.99,71.42 L577.79,71.61 L578.59,71.71 L579.40,71.65 L580.20,71.77 L581.00,72.02 L581.30,93.10 L582.19,93.27 L583.08,93.52 L583.97,93.69 L584.86,93.87 L585.74,93.96 L586.63,93.91 L587.52,93.92 L588.41,93.84 L589.30,93.80 L590.19,93.82 L591.08,94.17 L591.97,94.32 L592.86,94.46 L593.74,94.42 L594.63,94.37 L595.52,94.09 L596.41,94.06 L597.30,93.91 L598.19,94.15 L599.08,94.18 L599.97,94.32 L600.86,94.10 L601.74,94.21 L602.63,94.10 L603.52,94.18 L604.41,94.15 L605.30,94.39 L606.19,94.42 L607.08,94.23 L607.97,94.16 L608.86,93.90 L609.74,93.94 L610.63,93.97 L611.52,94.13 L612.41,94.14 L613.30,94.31 L614.19,94.44 L615.08,94.58 L615.97,94.61 L616.86,94.82 L617.74,94.75 L618.63,94.43 L619.52,94.25 L620.41,94.19 L621.30,94.05 L622.19,94.24 L623.08,94.71 L623.97,94.73 L624.86,94.84 L625.74,94.94 L626.63,94.95 L627.52,94.79 L628.41,95.04 L629.30,94.96" fill="none" stroke="#8e44b8" stroke-width="1.15" stroke-linejoin="round" opacity="1"/>
<path d="M478.50,98.15 L479.26,98.26 L480.01,98.26 L480.77,98.46 L481.53,98.40 L482.28,98.63 L483.04,98.49 L483.79,98.31 L484.55,98.20 L485.31,98.56 L486.06,98.67 L486.82,98.76 L487.58,98.99 L488.33,99.03 L489.09,98.96 L489.85,98.90 L490.60,98.97 L491.36,98.90 L492.12,98.95 L492.87,98.93 L493.63,98.85 L494.38,99.04 L495.14,99.10 L495.90,99.16 L496.65,99.43 L497.41,99.66 L498.17,99.20 L498.92,99.21 L499.68,99.23 L500.44,99.17 L501.19,99.13 L501.95,99.38 L502.71,99.14 L503.46,98.91 L504.22,98.69 L504.97,98.57 L505.73,98.33 L506.49,98.39 L507.24,98.41 L508.00,98.35 L508.90,97.60 L509.60,87.13 L510.40,82.44 L511.20,81.94 L512.01,81.57 L512.81,81.17 L513.61,80.86 L514.41,80.60 L515.22,80.45 L516.02,80.09 L516.82,80.05 L517.62,80.15 L518.42,80.11 L519.23,80.04 L520.03,80.04 L520.83,79.65 L521.63,79.24 L522.44,78.83 L523.24,78.52 L524.04,78.32 L524.84,78.32 L525.64,78.07 L526.45,78.30 L527.25,78.43 L528.05,78.34 L528.85,78.25 L529.66,78.43 L530.46,78.14 L531.26,77.80 L532.06,77.71 L532.87,77.48 L533.67,77.38 L534.47,77.27 L535.27,77.26 L536.07,77.12 L536.88,77.14 L537.68,77.06 L538.48,77.06 L539.28,76.86 L540.09,76.93 L540.89,76.97 L541.69,76.97 L542.49,76.82 L543.29,76.82 L544.10,76.70 L544.90,76.63 L545.70,76.68 L546.50,76.66 L547.31,76.60 L548.11,76.62 L548.91,76.52 L549.71,76.23 L550.51,76.13 L551.32,76.15 L552.12,76.14 L552.92,75.96 L553.72,75.91 L554.53,76.00 L555.33,75.85 L556.13,75.76 L556.93,75.89 L557.73,75.95 L558.54,75.76 L559.34,75.85 L560.14,75.77 L560.94,75.74 L561.75,75.63 L562.55,75.82 L563.35,75.62 L564.15,75.61 L564.96,75.55 L565.76,75.70 L566.56,75.50 L567.36,75.70 L568.16,75.63 L568.97,75.68 L569.77,75.73 L570.57,75.73 L571.37,75.69 L572.18,75.62 L572.98,75.62 L573.78,75.54 L574.58,75.56 L575.38,75.37 L576.19,75.49 L576.99,75.48 L577.79,75.45 L578.59,75.51 L579.40,75.41 L580.20,75.28 L581.00,75.28 L581.30,93.02 L582.19,92.95 L583.08,92.92 L583.97,92.97 L584.86,93.00 L585.74,93.24 L586.63,93.48 L587.52,93.65 L588.41,93.84 L589.30,93.95 L590.19,94.12 L591.08,94.23 L591.97,94.27 L592.86,94.26 L593.74,94.24 L594.63,94.23 L595.52,94.24 L596.41,94.16 L597.30,94.15 L598.19,94.22 L599.08,94.09 L599.97,94.20 L600.86,94.21 L601.74,94.33 L602.63,94.38 L603.52,94.34 L604.41,94.26 L605.30,94.38 L606.19,94.40 L607.08,94.37 L607.97,94.52 L608.86,94.38 L609.74,94.31 L610.63,94.35 L611.52,94.50 L612.41,94.48 L613.30,94.59 L614.19,94.80 L615.08,94.55 L615.97,94.39 L616.86,94.46 L617.74,94.58 L618.63,94.40 L619.52,94.43 L620.41,94.64 L621.30,94.60 L622.19,94.47 L623.08,94.57 L623.97,94.83 L624.86,94.47 L625.74,94.56 L626.63,94.71 L627.52,94.52 L628.41,94.51 L629.30,94.59" fill="none" stroke="#2a50b4" stroke-width="1.15" stroke-linejoin="round" opacity="1"/>
<path d="M478.50,99.16 L479.26,99.06 L480.01,98.72 L480.77,98.76 L481.53,98.76 L482.28,98.52 L483.04,98.66 L483.79,98.82 L484.55,98.87 L485.31,99.09 L486.06,99.18 L486.82,99.28 L487.58,99.15 L488.33,99.23 L489.09,98.81 L489.85,98.87 L490.60,98.70 L491.36,98.71 L492.12,98.55 L492.87,98.73 L493.63,98.62 L494.38,98.38 L495.14,98.37 L495.90,98.37 L496.65,98.33 L497.41,98.28 L498.17,98.51 L498.92,98.65 L499.68,98.67 L500.44,98.65 L501.19,98.91 L501.95,99.01 L502.71,99.01 L503.46,99.14 L504.22,99.13 L504.97,98.93 L505.73,98.92 L506.49,98.71 L507.24,98.53 L508.00,98.58 L508.90,97.60 L509.60,89.24 L510.40,86.05 L511.20,85.60 L512.01,85.25 L512.81,84.88 L513.61,84.59 L514.41,84.48 L515.22,84.45 L516.02,84.34 L516.82,84.41 L517.62,84.29 L518.42,84.07 L519.23,83.80 L520.03,83.92 L520.83,83.83 L521.63,83.97 L522.44,83.88 L523.24,83.93 L524.04,83.89 L524.84,83.82 L525.64,83.68 L526.45,83.66 L527.25,83.40 L528.05,83.20 L528.85,83.06 L529.66,83.25 L530.46,83.19 L531.26,83.41 L532.06,83.40 L532.87,83.44 L533.67,83.15 L534.47,83.05 L535.27,82.91 L536.07,82.86 L536.88,82.60 L537.68,82.53 L538.48,82.60 L539.28,82.50 L540.09,82.56 L540.89,82.62 L541.69,82.56 L542.49,82.53 L543.29,82.35 L544.10,82.26 L544.90,82.12 L545.70,81.89 L546.50,81.83 L547.31,81.78 L548.11,81.61 L548.91,81.56 L549.71,81.67 L550.51,81.47 L551.32,81.60 L552.12,81.42 L552.92,81.62 L553.72,81.56 L554.53,81.66 L555.33,81.59 L556.13,81.74 L556.93,81.53 L557.73,81.27 L558.54,81.25 L559.34,81.13 L560.14,81.05 L560.94,81.21 L561.75,81.25 L562.55,81.14 L563.35,81.16 L564.15,81.07 L564.96,81.04 L565.76,81.21 L566.56,81.18 L567.36,81.12 L568.16,81.30 L568.97,81.17 L569.77,81.23 L570.57,81.34 L571.37,81.23 L572.18,81.01 L572.98,81.06 L573.78,81.02 L574.58,81.04 L575.38,81.30 L576.19,81.50 L576.99,81.45 L577.79,81.37 L578.59,81.36 L579.40,81.21 L580.20,81.20 L581.00,81.06 L581.30,96.42 L582.19,96.35 L583.08,96.50 L583.97,96.56 L584.86,96.47 L585.74,96.16 L586.63,96.19 L587.52,96.13 L588.41,95.99 L589.30,96.04 L590.19,96.28 L591.08,96.29 L591.97,96.51 L592.86,96.40 L593.74,96.62 L594.63,96.66 L595.52,96.65 L596.41,96.64 L597.30,96.83 L598.19,96.56 L599.08,96.69 L599.97,96.63 L600.86,96.48 L601.74,96.54 L602.63,96.62 L603.52,96.45 L604.41,96.67 L605.30,96.84 L606.19,96.75 L607.08,96.62 L607.97,96.71 L608.86,96.71 L609.74,96.71 L610.63,96.89 L611.52,97.04 L612.41,97.03 L613.30,97.00 L614.19,97.05 L615.08,96.81 L615.97,96.96 L616.86,96.76 L617.74,96.84 L618.63,96.68 L619.52,96.82 L620.41,96.77 L621.30,96.92 L622.19,96.85 L623.08,96.95 L623.97,96.97 L624.86,96.83 L625.74,96.86 L626.63,96.70 L627.52,96.92 L628.41,96.85 L629.30,96.93" fill="none" stroke="#f08040" stroke-width="1.15" stroke-linejoin="round" opacity="1"/>
<path d="M478.50,99.12 L479.26,99.11 L480.01,99.05 L480.77,98.86 L481.53,98.70 L482.28,98.56 L483.04,98.49 L483.79,98.61 L484.55,98.82 L485.31,98.50 L486.06,98.57 L486.82,98.46 L487.58,98.43 L488.33,98.31 L489.09,98.75 L489.85,98.84 L490.60,98.89 L491.36,99.00 L492.12,99.00 L492.87,98.73 L493.63,98.70 L494.38,98.59 L495.14,98.39 L495.90,98.35 L496.65,98.56 L497.41,98.60 L498.17,98.64 L498.92,98.74 L499.68,98.59 L500.44,98.61 L501.19,98.65 L501.95,98.94 L502.71,99.08 L503.46,99.07 L504.22,98.94 L504.97,98.72 L505.73,98.52 L506.49,98.57 L507.24,98.72 L508.00,98.48 L508.90,97.60 L509.60,92.14 L510.40,89.46 L511.20,89.13 L512.01,89.22 L512.81,89.12 L513.61,88.76 L514.41,88.55 L515.22,88.42 L516.02,87.90 L516.82,87.82 L517.62,87.86 L518.42,88.14 L519.23,88.25 L520.03,88.40 L520.83,88.29 L521.63,88.47 L522.44,88.16 L523.24,88.17 L524.04,88.22 L524.84,88.34 L525.64,88.08 L526.45,88.29 L527.25,88.32 L528.05,88.27 L528.85,88.11 L529.66,88.08 L530.46,87.87 L531.26,87.69 L532.06,87.60 L532.87,87.59 L533.67,87.66 L534.47,87.81 L535.27,87.70 L536.07,87.70 L536.88,87.61 L537.68,87.46 L538.48,87.24 L539.28,87.23 L540.09,87.04 L540.89,86.85 L541.69,86.79 L542.49,86.86 L543.29,86.85 L544.10,86.90 L544.90,86.97 L545.70,86.81 L546.50,86.46 L547.31,86.44 L548.11,86.40 L548.91,86.30 L549.71,86.23 L550.51,86.54 L551.32,86.27 L552.12,86.42 L552.92,86.53 L553.72,86.86 L554.53,86.64 L555.33,86.82 L556.13,86.57 L556.93,86.50 L557.73,86.22 L558.54,86.20 L559.34,86.29 L560.14,86.24 L560.94,86.15 L561.75,86.21 L562.55,86.20 L563.35,86.02 L564.15,86.11 L564.96,86.09 L565.76,85.87 L566.56,85.89 L567.36,85.87 L568.16,85.98 L568.97,85.87 L569.77,86.06 L570.57,85.95 L571.37,85.90 L572.18,85.65 L572.98,85.75 L573.78,85.69 L574.58,85.91 L575.38,85.84 L576.19,85.96 L576.99,85.99 L577.79,85.94 L578.59,85.63 L579.40,85.74 L580.20,85.54 L581.00,85.42 L581.30,96.34 L582.19,96.42 L583.08,96.25 L583.97,96.30 L584.86,96.21 L585.74,96.18 L586.63,96.11 L587.52,96.34 L588.41,96.24 L589.30,96.32 L590.19,96.20 L591.08,96.03 L591.97,95.96 L592.86,95.91 L593.74,95.88 L594.63,96.00 L595.52,96.04 L596.41,95.92 L597.30,95.89 L598.19,96.09 L599.08,96.17 L599.97,96.21 L600.86,96.10 L601.74,96.15 L602.63,96.00 L603.52,95.89 L604.41,95.94 L605.30,96.04 L606.19,96.09 L607.08,96.15 L607.97,96.12 L608.86,96.03 L609.74,96.00 L610.63,95.97 L611.52,95.79 L612.41,95.74 L613.30,95.70 L614.19,95.61 L615.08,95.59 L615.97,95.68 L616.86,95.69 L617.74,95.83 L618.63,95.81 L619.52,95.74 L620.41,95.76 L621.30,95.82 L622.19,95.64 L623.08,95.83 L623.97,95.84 L624.86,95.93 L625.74,95.95 L626.63,96.09 L627.52,96.21 L628.41,96.18 L629.30,96.01" fill="none" stroke="#e52b33" stroke-width="1.15" stroke-linejoin="round" opacity="1"/>
<path d="M478.50,98.51 L479.26,98.75 L480.01,98.72 L480.77,99.12 L481.53,99.06 L482.28,99.01 L483.04,98.68 L483.79,98.64 L484.55,98.39 L485.31,98.64 L486.06,98.72 L486.82,98.82 L487.58,98.97 L488.33,99.12 L489.09,98.92 L489.85,98.86 L490.60,98.96 L491.36,98.83 L492.12,98.58 L492.87,98.59 L493.63,98.74 L494.38,98.93 L495.14,98.95 L495.90,99.06 L496.65,99.04 L497.41,98.98 L498.17,98.84 L498.92,98.79 L499.68,98.90 L500.44,98.88 L501.19,98.81 L501.95,98.70 L502.71,98.57 L503.46,98.51 L504.22,98.59 L504.97,98.38 L505.73,98.38 L506.49,98.62 L507.24,98.54 L508.00,98.34 L508.90,97.60 L509.60,94.09 L510.40,91.71 L511.20,91.55 L512.01,91.70 L512.81,91.37 L513.61,91.41 L514.41,91.43 L515.22,91.11 L516.02,91.00 L516.82,91.12 L517.62,91.11 L518.42,91.12 L519.23,91.38 L520.03,91.33 L520.83,91.31 L521.63,91.49 L522.44,91.37 L523.24,91.30 L524.04,91.20 L524.84,91.24 L525.64,91.03 L526.45,91.11 L527.25,91.08 L528.05,91.11 L528.85,91.15 L529.66,91.15 L530.46,91.20 L531.26,91.22 L532.06,91.30 L532.87,91.05 L533.67,91.09 L534.47,90.95 L535.27,90.74 L536.07,90.57 L536.88,90.50 L537.68,90.34 L538.48,90.33 L539.28,90.25 L540.09,90.00 L540.89,89.78 L541.69,89.69 L542.49,89.45 L543.29,89.49 L544.10,89.69 L544.90,90.03 L545.70,90.09 L546.50,90.20 L547.31,90.11 L548.11,90.10 L548.91,90.06 L549.71,90.15 L550.51,89.90 L551.32,90.06 L552.12,90.15 L552.92,90.09 L553.72,89.80 L554.53,89.97 L555.33,89.93 L556.13,89.81 L556.93,89.64 L557.73,89.70 L558.54,89.83 L559.34,89.63 L560.14,89.74 L560.94,89.82 L561.75,89.94 L562.55,89.71 L563.35,89.78 L564.15,89.71 L564.96,89.56 L565.76,89.74 L566.56,89.74 L567.36,89.68 L568.16,89.61 L568.97,89.81 L569.77,89.68 L570.57,89.79 L571.37,89.89 L572.18,89.87 L572.98,89.77 L573.78,89.44 L574.58,89.58 L575.38,89.63 L576.19,89.68 L576.99,89.68 L577.79,89.97 L578.59,89.88 L579.40,89.85 L580.20,89.95 L581.00,89.85 L581.30,96.21 L582.19,96.26 L583.08,96.38 L583.97,96.18 L584.86,96.14 L585.74,96.20 L586.63,96.23 L587.52,96.13 L588.41,96.32 L589.30,96.40 L590.19,96.33 L591.08,96.38 L591.97,96.45 L592.86,96.31 L593.74,96.49 L594.63,96.72 L595.52,96.68 L596.41,96.81 L597.30,96.68 L598.19,96.72 L599.08,96.50 L599.97,96.55 L600.86,96.36 L601.74,96.50 L602.63,96.27 L603.52,96.27 L604.41,96.37 L605.30,96.50 L606.19,96.53 L607.08,96.60 L607.97,96.57 L608.86,96.36 L609.74,96.41 L610.63,96.50 L611.52,96.56 L612.41,96.58 L613.30,96.59 L614.19,96.55 L615.08,96.56 L615.97,96.47 L616.86,96.60 L617.74,96.59 L618.63,96.53 L619.52,96.38 L620.41,96.43 L621.30,96.38 L622.19,96.52 L623.08,96.55 L623.97,96.56 L624.86,96.73 L625.74,96.81 L626.63,96.77 L627.52,96.72 L628.41,96.73 L629.30,96.58" fill="none" stroke="#f5a8b0" stroke-width="1.15" stroke-linejoin="round" opacity="1"/>
<path d="M478.50,99.18 L479.26,99.15 L480.01,99.11 L480.77,98.93 L481.53,98.86 L482.28,98.56 L483.04,98.70 L483.79,98.55 L484.55,98.54 L485.31,98.52 L486.06,98.69 L486.82,98.79 L487.58,98.96 L488.33,99.19 L489.09,99.32 L489.85,99.33 L490.60,99.19 L491.36,99.34 L492.12,99.13 L492.87,99.01 L493.63,99.00 L494.38,98.96 L495.14,98.77 L495.90,98.80 L496.65,98.90 L497.41,99.10 L498.17,99.09 L498.92,99.14 L499.68,99.21 L500.44,99.04 L501.19,98.74 L501.95,98.83 L502.71,98.68 L503.46,98.66 L504.22,98.55 L504.97,98.85 L505.73,98.58 L506.49,98.74 L507.24,98.78 L508.00,98.74 L508.90,97.60 L509.60,97.66 L510.40,97.11 L511.20,97.20 L512.01,97.02 L512.81,96.85 L513.61,96.79 L514.41,96.82 L515.22,96.72 L516.02,96.89 L516.82,97.05 L517.62,97.02 L518.42,97.10 L519.23,97.17 L520.03,97.08 L520.83,96.98 L521.63,96.88 L522.44,96.95 L523.24,96.91 L524.04,96.93 L524.84,96.96 L525.64,97.11 L526.45,97.19 L527.25,97.11 L528.05,97.09 L528.85,96.90 L529.66,96.85 L530.46,96.78 L531.26,96.68 L532.06,96.40 L532.87,96.21 L533.67,96.13 L534.47,95.97 L535.27,95.96 L536.07,96.01 L536.88,95.91 L537.68,95.83 L538.48,95.78 L539.28,95.72 L540.09,95.69 L540.89,96.02 L541.69,95.93 L542.49,95.78 L543.29,95.71 L544.10,95.61 L544.90,95.47 L545.70,95.41 L546.50,95.59 L547.31,95.53 L548.11,95.59 L548.91,95.56 L549.71,95.68 L550.51,95.78 L551.32,95.84 L552.12,95.72 L552.92,95.72 L553.72,95.74 L554.53,95.38 L555.33,95.42 L556.13,95.35 L556.93,95.35 L557.73,95.39 L558.54,95.52 L559.34,95.47 L560.14,95.55 L560.94,95.18 L561.75,95.11 L562.55,95.16 L563.35,95.17 L564.15,95.11 L564.96,95.32 L565.76,95.22 L566.56,95.28 L567.36,95.24 L568.16,95.41 L568.97,95.22 L569.77,95.18 L570.57,95.08 L571.37,95.09 L572.18,94.78 L572.98,94.97 L573.78,95.14 L574.58,94.98 L575.38,94.88 L576.19,94.93 L576.99,94.94 L577.79,94.88 L578.59,95.06 L579.40,94.96 L580.20,95.21 L581.00,95.21 L581.30,96.91 L582.19,96.65 L583.08,96.60 L583.97,96.75 L584.86,96.81 L585.74,96.73 L586.63,97.04 L587.52,96.97 L588.41,96.89 L589.30,96.85 L590.19,97.04 L591.08,96.77 L591.97,96.89 L592.86,97.07 L593.74,97.08 L594.63,96.93 L595.52,96.99 L596.41,96.89 L597.30,96.68 L598.19,96.70 L599.08,96.83 L599.97,96.79 L600.86,96.94 L601.74,96.97 L602.63,96.85 L603.52,96.91 L604.41,96.91 L605.30,96.96 L606.19,96.93 L607.08,97.11 L607.97,97.07 L608.86,96.88 L609.74,96.65 L610.63,96.62 L611.52,96.71 L612.41,96.52 L613.30,96.85 L614.19,97.09 L615.08,97.24 L615.97,97.19 L616.86,97.33 L617.74,97.26 L618.63,97.20 L619.52,97.20 L620.41,97.22 L621.30,97.26 L622.19,97.22 L623.08,97.16 L623.97,97.18 L624.86,96.98 L625.74,96.91 L626.63,96.95 L627.52,96.96 L628.41,96.92 L629.30,96.85" fill="none" stroke="#c49a5a" stroke-width="1.15" stroke-linejoin="round" opacity="1"/>
<line x1="508.50" y1="18.80" x2="508.50" y2="19.60" stroke="#222" stroke-width="1.4"/>
<line x1="508.50" y1="19.50" x2="508.50" y2="27.50" stroke="#3552b0" stroke-width="1.4"/>
<line x1="508.50" y1="27.50" x2="508.50" y2="41.00" stroke="#e8864e" stroke-width="1.4"/>
<line x1="508.50" y1="41.00" x2="508.50" y2="62.50" stroke="#e33a48" stroke-width="1.4"/>
<line x1="508.50" y1="62.50" x2="508.50" y2="95.00" stroke="#ef8f99" stroke-width="1.3"/>
<line x1="508.60" y1="95.00" x2="508.60" y2="118.30" stroke="#d4a070" stroke-width="1.2"/>
<line x1="581.20" y1="84.00" x2="581.20" y2="118.50" stroke="#ef7f8a" stroke-width="1.0"/>
<line x1="478.30" y1="18.30" x2="478.30" y2="119.30" stroke="#8a8a8a" stroke-width="1.5"/>
<line x1="475.80" y1="119.30" x2="629.30" y2="119.30" stroke="#4a4a4a" stroke-width="1.1"/>
<line x1="475.80" y1="18.30" x2="478.30" y2="18.30" stroke="#555" stroke-width="1.1"/>
<text x="473.80" y="21.75" font-size="11" text-anchor="end" font-weight="normal" fill="#231f20" >8</text>
<line x1="475.80" y1="38.50" x2="478.30" y2="38.50" stroke="#555" stroke-width="1.1"/>
<text x="473.80" y="41.70" font-size="11" text-anchor="end" font-weight="normal" fill="#231f20" >6</text>
<line x1="475.80" y1="58.60" x2="478.30" y2="58.60" stroke="#555" stroke-width="1.1"/>
<text x="473.80" y="62.55" font-size="11" text-anchor="end" font-weight="normal" fill="#231f20" >4</text>
<line x1="475.80" y1="78.90" x2="478.30" y2="78.90" stroke="#555" stroke-width="1.1"/>
<text x="473.80" y="81.70" font-size="11" text-anchor="end" font-weight="normal" fill="#231f20" >2</text>
<line x1="475.80" y1="99.10" x2="478.30" y2="99.10" stroke="#555" stroke-width="1.1"/>
<text x="473.80" y="101.65" font-size="11" text-anchor="end" font-weight="normal" fill="#231f20" >0</text>
<line x1="475.80" y1="119.30" x2="478.30" y2="119.30" stroke="#555" stroke-width="1.1"/>
<text x="473.80" y="121.65" font-size="11" text-anchor="end" font-weight="normal" fill="#231f20" >-2</text>
<line x1="478.30" y1="119.30" x2="478.30" y2="121.60" stroke="#555" stroke-width="1.0"/>
<text x="478.90" y="132.80" font-size="11" text-anchor="middle" font-weight="normal" fill="#231f20" >-50</text>
<line x1="508.50" y1="119.30" x2="508.50" y2="121.60" stroke="#555" stroke-width="1.0"/>
<text x="509.10" y="132.80" font-size="11" text-anchor="middle" font-weight="normal" fill="#231f20" >0</text>
<line x1="538.70" y1="119.30" x2="538.70" y2="121.60" stroke="#555" stroke-width="1.0"/>
<text x="539.30" y="132.80" font-size="11" text-anchor="middle" font-weight="normal" fill="#231f20" >50</text>
<line x1="568.90" y1="119.30" x2="568.90" y2="121.60" stroke="#555" stroke-width="1.0"/>
<text x="569.50" y="132.80" font-size="11" text-anchor="middle" font-weight="normal" fill="#231f20" >100</text>
<line x1="599.10" y1="119.30" x2="599.10" y2="121.60" stroke="#555" stroke-width="1.0"/>
<text x="599.70" y="132.80" font-size="11" text-anchor="middle" font-weight="normal" fill="#231f20" >150</text>
<line x1="629.30" y1="119.30" x2="629.30" y2="121.60" stroke="#555" stroke-width="1.0"/>
<text x="629.90" y="132.80" font-size="11" text-anchor="middle" font-weight="normal" fill="#231f20" >200</text>
<text x="557.30" y="141.90" font-size="11" text-anchor="middle" font-weight="normal" fill="#231f20" >time (s)</text>
<text transform="translate(463.9,62.0) rotate(-90)" font-size="11" text-anchor="middle" fill="#231f20">Response (RU)</text>
<line x1="635.10" y1="16.10" x2="649.10" y2="16.10" stroke="#8a8a8a" stroke-width="1.5"/>
<text x="654.30" y="19.80" font-size="11" text-anchor="start" font-weight="normal" fill="#231f20" letter-spacing="0.8" >5</text>
<line x1="635.10" y1="27.20" x2="649.10" y2="27.20" stroke="#b98ad2" stroke-width="1.4"/>
<text x="654.30" y="30.90" font-size="11" text-anchor="start" font-weight="normal" fill="#231f20" letter-spacing="0.8" >2<tspan dx="1.5">.</tspan><tspan dx="-0.9">5</tspan></text>
<line x1="635.10" y1="39.30" x2="649.10" y2="39.30" stroke="#3a56b2" stroke-width="1.1"/>
<text x="654.30" y="43.00" font-size="11" text-anchor="start" font-weight="normal" fill="#231f20" letter-spacing="0.8" >1<tspan dx="1.5">.</tspan><tspan dx="-0.9">2</tspan>5</text>
<line x1="635.10" y1="52.00" x2="649.10" y2="52.00" stroke="#f7ab84" stroke-width="1.4"/>
<text x="654.30" y="55.70" font-size="11" text-anchor="start" font-weight="normal" fill="#231f20" letter-spacing="0.8" >0<tspan dx="1.5">.</tspan><tspan dx="-0.9">6</tspan>25</text>
<line x1="635.10" y1="65.50" x2="649.10" y2="65.50" stroke="#e84a56" stroke-width="1.2"/>
<text x="654.30" y="69.20" font-size="11" text-anchor="start" font-weight="normal" fill="#231f20" letter-spacing="0.8" >0<tspan dx="1.5">.</tspan><tspan dx="-0.9">3</tspan>12</text>
<line x1="635.10" y1="77.90" x2="649.10" y2="77.90" stroke="#f9cdd2" stroke-width="1.5"/>
<text x="654.30" y="81.60" font-size="11" text-anchor="start" font-weight="normal" fill="#231f20" letter-spacing="0.8" >0<tspan dx="1.5">.</tspan><tspan dx="-0.9">1</tspan>65</text>
<line x1="635.10" y1="90.30" x2="649.10" y2="90.30" stroke="#d2ae84" stroke-width="1.3"/>
<text x="654.30" y="94.00" font-size="11" text-anchor="start" font-weight="normal" fill="#231f20" letter-spacing="0.8" >0<tspan dx="1.5">.</tspan><tspan dx="-0.9">0</tspan>78</text>
<text x="200.40" y="216.40" font-size="13.6" text-anchor="start" font-weight="bold" fill="#000" style="stroke:#000;stroke-width:0.4px">d</text>
<line x1="230.70" y1="221.70" x2="230.70" y2="322.30" stroke="#8a8a8a" stroke-width="1.5"/>
<line x1="228.20" y1="322.30" x2="381.50" y2="322.30" stroke="#4a4a4a" stroke-width="1.1"/>
<line x1="228.20" y1="221.70" x2="230.70" y2="221.70" stroke="#555" stroke-width="1.1"/>
<text x="226.20" y="225.30" font-size="11" text-anchor="end" font-weight="normal" fill="#231f20" >6</text>
<line x1="228.20" y1="255.20" x2="230.70" y2="255.20" stroke="#555" stroke-width="1.1"/>
<text x="226.20" y="258.80" font-size="11" text-anchor="end" font-weight="normal" fill="#231f20" >4</text>
<line x1="228.20" y1="288.80" x2="230.70" y2="288.80" stroke="#555" stroke-width="1.1"/>
<text x="226.20" y="292.40" font-size="11" text-anchor="end" font-weight="normal" fill="#231f20" >2</text>
<line x1="228.20" y1="322.30" x2="230.70" y2="322.30" stroke="#555" stroke-width="1.1"/>
<text x="226.20" y="325.90" font-size="11" text-anchor="end" font-weight="normal" fill="#231f20" >0</text>
<line x1="231.10" y1="322.30" x2="231.10" y2="324.60" stroke="#555" stroke-width="1.0"/>
<text x="231.10" y="334.60" font-size="11" text-anchor="middle" font-weight="normal" fill="#231f20" >0</text>
<line x1="281.30" y1="322.30" x2="281.30" y2="324.60" stroke="#555" stroke-width="1.0"/>
<text x="279.80" y="334.60" font-size="11" text-anchor="middle" font-weight="normal" fill="#231f20" >2e-6</text>
<line x1="331.50" y1="322.30" x2="331.50" y2="324.60" stroke="#555" stroke-width="1.0"/>
<text x="329.70" y="334.60" font-size="11" text-anchor="middle" font-weight="normal" fill="#231f20" >4e-6</text>
<line x1="381.50" y1="322.30" x2="381.50" y2="324.60" stroke="#555" stroke-width="1.0"/>
<text x="381.50" y="334.60" font-size="11" text-anchor="middle" font-weight="normal" fill="#231f20" >6e-6</text>
<text x="304.30" y="347.20" font-size="11.25" text-anchor="middle" font-weight="normal" fill="#231f20" >concentration (M)</text>
<text transform="translate(216.2,273.0) rotate(-90)" font-size="11" text-anchor="middle" fill="#231f20">Response (RU)</text>
<path d="M232.48,308.42 L232.48,308.39 L232.49,308.31 L232.51,308.18 L232.53,308.00 L232.56,307.77 L232.59,307.48 L232.63,307.15 L232.68,306.77 L232.73,306.35 L232.79,305.88 L232.86,305.37 L232.93,304.82 L233.01,304.23 L233.09,303.61 L233.19,302.95 L233.28,302.26 L233.39,301.55 L233.50,300.80 L233.61,300.04 L233.73,299.25 L233.86,298.44 L234.00,297.62 L234.14,296.78 L234.29,295.93 L234.44,295.06 L234.60,294.19 L234.77,293.32 L234.94,292.44 L235.12,291.55 L235.30,290.67 L235.49,289.78 L235.69,288.89 L235.89,288.01 L236.10,287.14 L236.32,286.26 L236.54,285.40 L236.77,284.54 L237.01,283.69 L237.25,282.85 L237.50,282.02 L237.75,281.19 L238.01,280.38 L238.28,279.58 L238.55,278.80 L238.83,278.02 L239.11,277.26 L239.40,276.50 L239.70,275.77 L240.01,275.04 L240.32,274.33 L240.63,273.63 L240.96,272.94 L241.28,272.27 L241.62,271.61 L241.96,270.96 L242.31,270.33 L242.66,269.71 L243.02,269.10 L243.39,268.51 L243.76,267.92 L244.14,267.35 L244.53,266.80 L244.92,266.25 L245.32,265.72 L245.72,265.19 L246.13,264.68 L246.55,264.18 L246.97,263.69 L247.40,263.22 L247.84,262.75 L248.28,262.29 L248.73,261.85 L249.18,261.41 L249.64,260.98 L250.11,260.57 L250.58,260.16 L251.06,259.76 L251.55,259.37 L252.04,258.99 L252.54,258.62 L253.04,258.26 L253.56,257.90 L254.07,257.55 L254.60,257.21 L255.13,256.88 L255.66,256.56 L256.20,256.24 L256.75,255.93 L257.31,255.63 L257.87,255.33 L258.44,255.04 L259.01,254.76 L259.59,254.48 L260.17,254.21 L260.77,253.94 L261.37,253.68 L261.97,253.43 L262.58,253.18 L263.20,252.93 L263.82,252.70 L264.45,252.46 L265.09,252.23 L265.73,252.01 L266.38,251.79 L267.04,251.58 L267.70,251.37 L268.36,251.16 L269.04,250.96 L269.72,250.76 L270.40,250.57 L271.10,250.38 L271.80,250.20 L272.50,250.02 L273.21,249.84 L273.93,249.66 L274.65,249.49 L275.39,249.33 L276.12,249.16 L276.86,249.00 L277.61,248.84 L278.37,248.69 L279.13,248.54 L279.90,248.39 L280.67,248.24 L281.45,248.10 L282.24,247.96 L283.03,247.82 L283.83,247.69 L284.64,247.56 L285.45,247.43 L286.27,247.30 L287.09,247.18 L287.92,247.05 L288.76,246.93 L289.60,246.81 L290.45,246.70 L291.31,246.58 L292.17,246.47 L293.04,246.36 L293.91,246.25 L294.79,246.15 L295.68,246.04 L296.57,245.94 L297.47,245.84 L298.38,245.74 L299.29,245.65 L300.21,245.55 L301.13,245.46 L302.06,245.37 L303.00,245.27 L303.94,245.19 L304.89,245.10 L305.85,245.01 L306.81,244.93 L307.78,244.84 L308.76,244.76 L309.74,244.68 L310.72,244.60 L311.72,244.53 L312.72,244.45 L313.72,244.37 L314.74,244.30 L315.75,244.23 L316.78,244.16 L317.81,244.09 L318.85,244.02 L319.89,243.95 L320.94,243.88 L322.00,243.81 L323.06,243.75 L324.13,243.69 L325.20,243.62 L326.29,243.56 L327.37,243.50 L328.47,243.44 L329.57,243.38 L330.67,243.32 L331.79,243.26 L332.91,243.21 L334.03,243.15 L335.16,243.10 L336.30,243.04 L337.44,242.99 L338.59,242.93 L339.75,242.88 L340.91,242.83 L342.08,242.78 L343.26,242.73 L344.44,242.68 L345.63,242.63 L346.82,242.59 L348.02,242.54 L349.23,242.49 L350.44,242.45 L351.66,242.40 L352.89,242.36 L354.12,242.32 L355.36,242.27 L356.60,242.23" fill="none" stroke="#111" stroke-width="0.9" stroke-linejoin="round" opacity="1"/>
<circle cx="356.6" cy="239" r="2.3" fill="#000000"/>
<circle cx="293.9" cy="251.3" r="2.3" fill="#7b2a8e"/>
<circle cx="262.6" cy="261" r="2.3" fill="#1a46a6"/>
<circle cx="246.6" cy="271.7" r="2.3" fill="#f0661e"/>
<circle cx="238.9" cy="278.8" r="2.3" fill="#ea1c24"/>
<circle cx="235.2" cy="291.3" r="2.3" fill="#f5a0a8"/>
<circle cx="232.7" cy="315.7" r="2.3" fill="#c8924e"/>
<circle cx="398.1" cy="216.8" r="1.65" fill="#000000"/>
<text x="405.30" y="220.30" font-size="11" text-anchor="start" font-weight="normal" fill="#231f20" letter-spacing="0.8" >5</text>
<circle cx="398.1" cy="227.2" r="1.65" fill="#7b2a8e"/>
<text x="405.30" y="230.70" font-size="11" text-anchor="start" font-weight="normal" fill="#231f20" letter-spacing="0.8" >2<tspan dx="1.5">.</tspan><tspan dx="-0.9">5</tspan></text>
<circle cx="398.1" cy="240" r="1.65" fill="#1a46a6"/>
<text x="405.30" y="243.50" font-size="11" text-anchor="start" font-weight="normal" fill="#231f20" letter-spacing="0.8" >1<tspan dx="1.5">.</tspan><tspan dx="-0.9">2</tspan>5</text>
<circle cx="398.1" cy="252.6" r="1.65" fill="#f0661e"/>
<text x="405.30" y="256.10" font-size="11" text-anchor="start" font-weight="normal" fill="#231f20" letter-spacing="0.8" >0<tspan dx="1.5">.</tspan><tspan dx="-0.9">6</tspan>25</text>
<circle cx="398.1" cy="266.1" r="1.65" fill="#ea1c24"/>
<text x="405.30" y="269.60" font-size="11" text-anchor="start" font-weight="normal" fill="#231f20" letter-spacing="0.8" >0<tspan dx="1.5">.</tspan><tspan dx="-0.9">3</tspan>12</text>
<circle cx="398.1" cy="278.5" r="1.65" fill="#f5a0a8"/>
<text x="405.30" y="282.00" font-size="11" text-anchor="start" font-weight="normal" fill="#231f20" letter-spacing="0.8" >0<tspan dx="1.5">.</tspan><tspan dx="-0.9">1</tspan>65</text>
<circle cx="398.1" cy="290.6" r="1.65" fill="#c8924e"/>
<text x="405.30" y="294.10" font-size="11" text-anchor="start" font-weight="normal" fill="#231f20" letter-spacing="0.8" >0<tspan dx="1.5">.</tspan><tspan dx="-0.9">0</tspan>78</text>
<text x="448.60" y="216.00" font-size="13.6" text-anchor="start" font-weight="bold" fill="#000" style="stroke:#000;stroke-width:0.4px">f</text>
<line x1="478.30" y1="221.70" x2="478.30" y2="322.30" stroke="#8a8a8a" stroke-width="1.5"/>
<line x1="475.80" y1="322.30" x2="629.40" y2="322.30" stroke="#4a4a4a" stroke-width="1.1"/>
<line x1="475.80" y1="221.70" x2="478.30" y2="221.70" stroke="#555" stroke-width="1.1"/>
<text x="473.80" y="225.30" font-size="11" text-anchor="end" font-weight="normal" fill="#231f20" >6</text>
<line x1="475.80" y1="255.20" x2="478.30" y2="255.20" stroke="#555" stroke-width="1.1"/>
<text x="473.80" y="258.80" font-size="11" text-anchor="end" font-weight="normal" fill="#231f20" >4</text>
<line x1="475.80" y1="288.80" x2="478.30" y2="288.80" stroke="#555" stroke-width="1.1"/>
<text x="473.80" y="292.40" font-size="11" text-anchor="end" font-weight="normal" fill="#231f20" >2</text>
<line x1="475.80" y1="322.30" x2="478.30" y2="322.30" stroke="#555" stroke-width="1.1"/>
<text x="473.80" y="325.90" font-size="11" text-anchor="end" font-weight="normal" fill="#231f20" >0</text>
<line x1="478.30" y1="322.30" x2="478.30" y2="324.60" stroke="#555" stroke-width="1.0"/>
<text x="478.30" y="334.60" font-size="11" text-anchor="middle" font-weight="normal" fill="#231f20" >0</text>
<line x1="528.70" y1="322.30" x2="528.70" y2="324.60" stroke="#555" stroke-width="1.0"/>
<text x="528.70" y="334.60" font-size="11" text-anchor="middle" font-weight="normal" fill="#231f20" >2e-6</text>
<line x1="579.30" y1="322.30" x2="579.30" y2="324.60" stroke="#555" stroke-width="1.0"/>
<text x="578.30" y="334.60" font-size="11" text-anchor="middle" font-weight="normal" fill="#231f20" >4e-6</text>
<line x1="629.40" y1="322.30" x2="629.40" y2="324.60" stroke="#555" stroke-width="1.0"/>
<text x="629.40" y="334.60" font-size="11" text-anchor="middle" font-weight="normal" fill="#231f20" >6e-6</text>
<text x="558.00" y="347.20" font-size="11.25" text-anchor="middle" font-weight="normal" fill="#231f20" >concentration (M)</text>
<text transform="translate(462.8,268.5) rotate(-90)" font-size="11" text-anchor="middle" fill="#231f20">Response (RU)</text>
<path d="M478.79,316.30 L478.79,316.29 L478.80,316.26 L478.82,316.21 L478.84,316.14 L478.87,316.06 L478.90,315.95 L478.94,315.83 L478.99,315.68 L479.04,315.52 L479.10,315.34 L479.17,315.15 L479.24,314.93 L479.32,314.70 L479.40,314.46 L479.49,314.20 L479.59,313.92 L479.69,313.63 L479.80,313.33 L479.92,313.01 L480.04,312.68 L480.17,312.34 L480.30,311.98 L480.44,311.62 L480.59,311.25 L480.74,310.86 L480.90,310.47 L481.07,310.07 L481.24,309.66 L481.41,309.24 L481.60,308.82 L481.79,308.39 L481.99,307.96 L482.19,307.52 L482.40,307.08 L482.61,306.64 L482.83,306.19 L483.06,305.74 L483.30,305.28 L483.54,304.83 L483.78,304.37 L484.04,303.92 L484.30,303.46 L484.56,303.00 L484.83,302.55 L485.11,302.09 L485.39,301.64 L485.68,301.18 L485.98,300.73 L486.28,300.29 L486.59,299.84 L486.91,299.40 L487.23,298.96 L487.56,298.52 L487.89,298.08 L488.23,297.65 L488.58,297.23 L488.93,296.80 L489.29,296.38 L489.65,295.97 L490.03,295.56 L490.40,295.15 L490.79,294.75 L491.18,294.35 L491.57,293.96 L491.98,293.57 L492.39,293.19 L492.80,292.81 L493.22,292.43 L493.65,292.06 L494.08,291.70 L494.52,291.34 L494.97,290.98 L495.42,290.63 L495.88,290.29 L496.35,289.95 L496.82,289.61 L497.30,289.28 L497.78,288.96 L498.27,288.64 L498.77,288.32 L499.27,288.01 L499.78,287.70 L500.29,287.40 L500.81,287.10 L501.34,286.81 L501.87,286.52 L502.41,286.24 L502.96,285.96 L503.51,285.68 L504.07,285.41 L504.64,285.15 L505.21,284.88 L505.78,284.63 L506.37,284.37 L506.96,284.12 L507.55,283.88 L508.16,283.64 L508.77,283.40 L509.38,283.16 L510.00,282.93 L510.63,282.71 L511.26,282.48 L511.90,282.26 L512.55,282.05 L513.20,281.84 L513.86,281.63 L514.52,281.42 L515.19,281.22 L515.87,281.02 L516.56,280.82 L517.25,280.63 L517.94,280.44 L518.64,280.26 L519.35,280.07 L520.07,279.89 L520.79,279.72 L521.52,279.54 L522.25,279.37 L522.99,279.20 L523.73,279.03 L524.49,278.87 L525.24,278.71 L526.01,278.55 L526.78,278.39 L527.56,278.24 L528.34,278.09 L529.13,277.94 L529.93,277.80 L530.73,277.65 L531.54,277.51 L532.35,277.37 L533.17,277.23 L534.00,277.10 L534.83,276.97 L535.67,276.83 L536.52,276.71 L537.37,276.58 L538.23,276.45 L539.09,276.33 L539.96,276.21 L540.84,276.09 L541.72,275.97 L542.61,275.86 L543.51,275.74 L544.41,275.63 L545.32,275.52 L546.23,275.41 L547.16,275.30 L548.08,275.20 L549.02,275.09 L549.95,274.99 L550.90,274.89 L551.85,274.79 L552.81,274.69 L553.78,274.60 L554.75,274.50 L555.72,274.41 L556.71,274.32 L557.70,274.23 L558.69,274.14 L559.69,274.05 L560.70,273.96 L561.72,273.87 L562.74,273.79 L563.76,273.71 L564.80,273.62 L565.84,273.54 L566.88,273.46 L567.93,273.38 L568.99,273.31 L570.06,273.23 L571.13,273.15 L572.20,273.08 L573.29,273.01 L574.37,272.93 L575.47,272.86 L576.57,272.79 L577.68,272.72 L578.79,272.65 L579.91,272.58 L581.04,272.52 L582.17,272.45 L583.31,272.39 L584.46,272.32 L585.61,272.26 L586.77,272.20 L587.93,272.14 L589.10,272.07 L590.28,272.01 L591.46,271.96 L592.65,271.90 L593.85,271.84 L595.05,271.78 L596.26,271.73 L597.47,271.67 L598.69,271.62 L599.92,271.56 L601.15,271.51 L602.39,271.46" fill="none" stroke="#111" stroke-width="0.9" stroke-linejoin="round" opacity="1"/>
<circle cx="602.4" cy="270.6" r="2.3" fill="#000000"/>
<circle cx="539.9" cy="276.6" r="2.3" fill="#7b2a8e"/>
<circle cx="508.5" cy="282.3" r="2.3" fill="#1a46a6"/>
<circle cx="492.5" cy="292.8" r="2.3" fill="#f0661e"/>
<circle cx="485.1" cy="299.6" r="2.3" fill="#ea1c24"/>
<circle cx="480.9" cy="307.2" r="2.3" fill="#f5a0a8"/>
<circle cx="478.6" cy="316.1" r="2.3" fill="#c8924e"/>
<circle cx="646.1" cy="215" r="1.65" fill="#000000"/>
<text x="654.40" y="218.50" font-size="11" text-anchor="start" font-weight="normal" fill="#231f20" letter-spacing="0.8" >5</text>
<circle cx="646.1" cy="225.9" r="1.65" fill="#7b2a8e"/>
<text x="654.40" y="229.40" font-size="11" text-anchor="start" font-weight="normal" fill="#231f20" letter-spacing="0.8" >2<tspan dx="1.5">.</tspan><tspan dx="-0.9">5</tspan></text>
<circle cx="646.1" cy="239.3" r="1.65" fill="#1a46a6"/>
<text x="654.40" y="242.80" font-size="11" text-anchor="start" font-weight="normal" fill="#231f20" letter-spacing="0.8" >1<tspan dx="1.5">.</tspan><tspan dx="-0.9">2</tspan>5</text>
<circle cx="646.1" cy="251.4" r="1.65" fill="#f0661e"/>
<text x="654.40" y="254.90" font-size="11" text-anchor="start" font-weight="normal" fill="#231f20" letter-spacing="0.8" >0<tspan dx="1.5">.</tspan><tspan dx="-0.9">6</tspan>25</text>
<circle cx="646.1" cy="264.9" r="1.65" fill="#ea1c24"/>
<text x="654.40" y="268.40" font-size="11" text-anchor="start" font-weight="normal" fill="#231f20" letter-spacing="0.8" >0<tspan dx="1.5">.</tspan><tspan dx="-0.9">3</tspan>12</text>
<circle cx="646.1" cy="277.5" r="1.65" fill="#f5a0a8"/>
<text x="654.40" y="281.00" font-size="11" text-anchor="start" font-weight="normal" fill="#231f20" letter-spacing="0.8" >0<tspan dx="1.5">.</tspan><tspan dx="-0.9">1</tspan>65</text>
<circle cx="646.1" cy="289.6" r="1.65" fill="#c8924e"/>
<text x="654.40" y="293.10" font-size="11" text-anchor="start" font-weight="normal" fill="#231f20" letter-spacing="0.8" >0<tspan dx="1.5">.</tspan><tspan dx="-0.9">0</tspan>78</text>
</svg></body></html>
